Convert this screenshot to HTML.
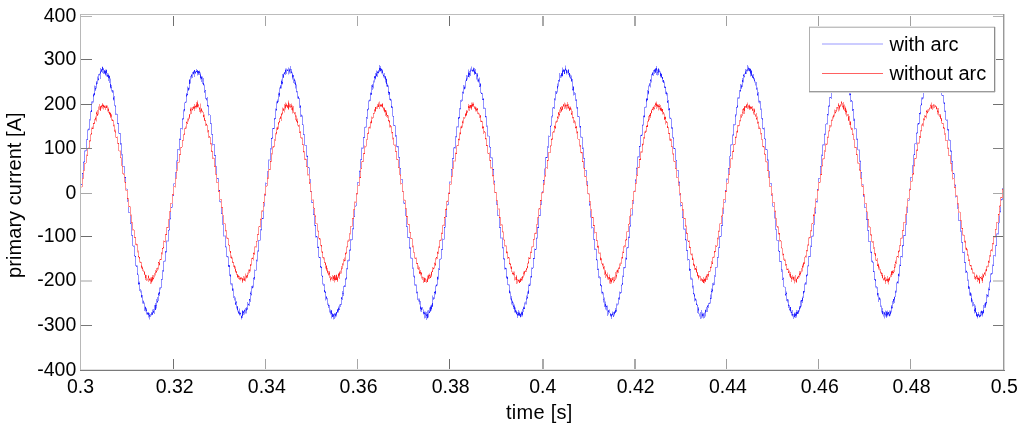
<!DOCTYPE html>
<html><head><meta charset="utf-8"><style>
html,body{margin:0;padding:0;background:#fff;width:1024px;height:431px;overflow:hidden;font-family:"Liberation Sans",sans-serif;}
svg{display:block;}
</style></head><body>
<svg width="1024" height="431" viewBox="0 0 1024 431"><rect width="1024" height="431" fill="#fff"/><defs><clipPath id="c"><rect x="80" y="14" width="924" height="357"/></clipPath><filter id="b" x="-5%" y="-5%" width="110%" height="110%"><feGaussianBlur stdDeviation="0.3"/></filter></defs><g clip-path="url(#c)"><g filter="url(#b)" opacity="0.85"><path fill="#0000ff" d="M80.5 184h0.5v3h-0.5zM80.5 196h0.5v0.5h-0.5zM81 184h0.5v1h-0.5zM81.5 184.5h0.5v0.5h-0.5zM82 173h0.5v5.5h-0.5zM82.5 173h0.5v1h-0.5zM83 161.5h0.5v9h-0.5zM83.5 162h0.5v0.5h-0.5zM84 161.5h0.5v0.5h-0.5zM84.5 150.5h0.5v12h-0.5zM85 150.5h0.5v1h-0.5zM85.5 150h0.5v0.5h-0.5zM86 139.5h0.5v11.5h-0.5zM86.5 139.5h0.5v0.5h-0.5zM87 139.5h0.5v0.5h-0.5zM87.5 129.5h0.5v10.5h-0.5zM88 128.5h0.5v1h-0.5zM88.5 129h0.5v1.5h-0.5zM89 119.5h0.5v10.5h-0.5zM89.5 119.5h0.5v0.5h-0.5zM90 120h0.5v0.5h-0.5zM90.5 111h0.5v9h-0.5zM91 110h0.5v2h-0.5zM91.5 101.5h0.5v10.5h-0.5zM92 102.5h0.5v1h-0.5zM92.5 101h0.5v1.5h-0.5zM93 94.5h0.5v8h-0.5zM93.5 93.5h0.5v3h-0.5zM94 93h0.5v2h-0.5zM94.5 85.5h0.5v10h-0.5zM95 86h0.5v5h-0.5zM95.5 88h0.5v1.5h-0.5zM96 82.5h0.5v6h-0.5zM96.5 81h0.5v3.5h-0.5zM97 83.5h0.5v0.5h-0.5zM97.5 76.5h0.5v7h-0.5zM98 78.5h0.5v2h-0.5zM98.5 74h0.5v6h-0.5zM99 73.5h0.5v2h-0.5zM99.5 74.5h0.5v0.5h-0.5zM100 71.5h0.5v7.5h-0.5zM100.5 68h0.5v5.5h-0.5zM101 69.5h0.5v2h-0.5zM101.5 69h0.5v3h-0.5zM102 67h0.5v3h-0.5zM102.5 66.5h0.5v6.5h-0.5zM103 69.5h0.5v4.5h-0.5zM103.5 68h0.5v2h-0.5zM104 70h0.5v3h-0.5zM104.5 70.5h0.5v3.5h-0.5zM105 69.5h0.5v5h-0.5zM105.5 71h0.5v4.5h-0.5zM106 70h0.5v6.5h-0.5zM106.5 69.5h0.5v3.5h-0.5zM107 73h0.5v3.5h-0.5zM107.5 75h0.5v2h-0.5zM108 75h0.5v3h-0.5zM108.5 73.5h0.5v7.5h-0.5zM109 75.5h0.5v7.5h-0.5zM109.5 76h0.5v2.5h-0.5zM110 78.5h0.5v10h-0.5zM110.5 84h0.5v3.5h-0.5zM111 87h0.5v0.5h-0.5zM111.5 85h0.5v6.5h-0.5zM112 90.5h0.5v2.5h-0.5zM112.5 90h0.5v1.5h-0.5zM113 90.5h0.5v10h-0.5zM113.5 97.5h0.5v2h-0.5zM114 96h0.5v9.5h-0.5zM114.5 105h0.5v0.5h-0.5zM115 105.5h0.5v1h-0.5zM115.5 105.5h0.5v9.5h-0.5zM116 113.5h0.5v1h-0.5zM116.5 114h0.5v0.5h-0.5zM117 114h0.5v10h-0.5zM117.5 123h0.5v0.5h-0.5zM118 123h0.5v1h-0.5zM118.5 123.5h0.5v10h-0.5zM119 133h0.5v0.5h-0.5zM119.5 133h0.5v1h-0.5zM120 133h0.5v11.5h-0.5zM120.5 143.5h0.5v1h-0.5zM121 143.5h0.5v0.5h-0.5zM121.5 143.5h0.5v12h-0.5zM122 154.5h0.5v0.5h-0.5zM122.5 154.5h0.5v11h-0.5zM123 166h0.5v0.5h-0.5zM123.5 166h0.5v0.5h-0.5zM124 166h0.5v7.5h-0.5zM124.5 177h0.5v1h-0.5zM125 177h0.5v1h-0.5zM125.5 177h0.5v5h-0.5zM126 188.5h0.5v0.5h-0.5zM126.5 189h0.5v0.5h-0.5zM127 189h0.5v1h-0.5zM127 199h0.5v2.5h-0.5zM127.5 201h0.5v0.5h-0.5zM128 200.5h0.5v0.5h-0.5zM128.5 207h0.5v6h-0.5zM129 212.5h0.5v0.5h-0.5zM129.5 212h0.5v0.5h-0.5zM130 215.5h0.5v8.5h-0.5zM130.5 223h0.5v0.5h-0.5zM131 223.5h0.5v12h-0.5zM131.5 235h0.5v0.5h-0.5zM132 235h0.5v0.5h-0.5zM132.5 235h0.5v11h-0.5zM133 246h0.5v0.5h-0.5zM133.5 245.5h0.5v1h-0.5zM134 245.5h0.5v11h-0.5zM134.5 255.5h0.5v0.5h-0.5zM135 256h0.5v1h-0.5zM135.5 256h0.5v10h-0.5zM136 265.5h0.5v1.5h-0.5zM136.5 265.5h0.5v1h-0.5zM137 265.5h0.5v9.5h-0.5zM137.5 273.5h0.5v1h-0.5zM138 274.5h0.5v9.5h-0.5zM138.5 282.5h0.5v2.5h-0.5zM139 283h0.5v1h-0.5zM139.5 281.5h0.5v9.5h-0.5zM140 289h0.5v2h-0.5zM140.5 291h0.5v1.5h-0.5zM141 290.5h0.5v7.5h-0.5zM141.5 295h0.5v2h-0.5zM142 295h0.5v0.5h-0.5zM142.5 295.5h0.5v8h-0.5zM143 300.5h0.5v3.5h-0.5zM143.5 301.5h0.5v1h-0.5zM144 302.5h0.5v6h-0.5zM144.5 308.5h0.5v2.5h-0.5zM145 307h0.5v2.5h-0.5zM145.5 306.5h0.5v5h-0.5zM146 309.5h0.5v1.5h-0.5zM146.5 308h0.5v6.5h-0.5zM147 313h0.5v1h-0.5zM147.5 312h0.5v3h-0.5zM148 312.5h0.5v5h-0.5zM148.5 312.5h0.5v2.5h-0.5zM149 313h0.5v3.5h-0.5zM149.5 315h0.5v4.5h-0.5zM150 315.5h0.5v1.5h-0.5zM150.5 314h0.5v1.5h-0.5zM151 313.5h0.5v2h-0.5zM151.5 312h0.5v2.5h-0.5zM152 309.5h0.5v5.5h-0.5zM152.5 312.5h0.5v2h-0.5zM153 311h0.5v1.5h-0.5zM153.5 309h0.5v4h-0.5zM154 309.5h0.5v4.5h-0.5zM154.5 305h0.5v4.5h-0.5zM155 305h0.5v5h-0.5zM155.5 303h0.5v7h-0.5zM156 305.5h0.5v3h-0.5zM156.5 299h0.5v7h-0.5zM157 297h0.5v5.5h-0.5zM157.5 301h0.5v1.5h-0.5zM158 292.5h0.5v8.5h-0.5zM158.5 293.5h0.5v1.5h-0.5zM159 292h0.5v4h-0.5zM159.5 287.5h0.5v6.5h-0.5zM160 289h0.5v0.5h-0.5zM160.5 287h0.5v2h-0.5zM161 279h0.5v9h-0.5zM161.5 279h0.5v0.5h-0.5zM162 270.5h0.5v9.5h-0.5zM162.5 270.5h0.5v0.5h-0.5zM163 270.5h0.5v1h-0.5zM163.5 261h0.5v10.5h-0.5zM164 260.5h0.5v1h-0.5zM164.5 261h0.5v0.5h-0.5zM165 251.5h0.5v10h-0.5zM165.5 251h0.5v1.5h-0.5zM166 251.5h0.5v1h-0.5zM166.5 240.5h0.5v11.5h-0.5zM167 240.5h0.5v0.5h-0.5zM167.5 241h0.5v0.5h-0.5zM168 230h0.5v11.5h-0.5zM168.5 230h0.5v0.5h-0.5zM169 229.5h0.5v0.5h-0.5zM169.5 219.5h0.5v11h-0.5zM170 218.5h0.5v0.5h-0.5zM170.5 212h0.5v7.5h-0.5zM171 207h0.5v1h-0.5zM171.5 207h0.5v0.5h-0.5zM172 203.5h0.5v4h-0.5zM172.5 195.5h0.5v0.5h-0.5zM173 195.5h0.5v0.5h-0.5zM173.5 183.5h0.5v3h-0.5zM173.5 195h0.5v1h-0.5zM174 183.5h0.5v0.5h-0.5zM174.5 183.5h0.5v0.5h-0.5zM175 172.5h0.5v6h-0.5zM175.5 172.5h0.5v0.5h-0.5zM176 172h0.5v1h-0.5zM176.5 160.5h0.5v9h-0.5zM177 160.5h0.5v0.5h-0.5zM177.5 149h0.5v12.5h-0.5zM178 149.5h0.5v0.5h-0.5zM178.5 149.5h0.5v0.5h-0.5zM179 138.5h0.5v12h-0.5zM179.5 139h0.5v0.5h-0.5zM180 139h0.5v1h-0.5zM180.5 128h0.5v11.5h-0.5zM181 128h0.5v0.5h-0.5zM181.5 128h0.5v0.5h-0.5zM182 118.5h0.5v11h-0.5zM182.5 118.5h0.5v1h-0.5zM183 118.5h0.5v1h-0.5zM183.5 109.5h0.5v9.5h-0.5zM184 109h0.5v1.5h-0.5zM184.5 102.5h0.5v9h-0.5zM185 101.5h0.5v1h-0.5zM185.5 102h0.5v1h-0.5zM186 93h0.5v9.5h-0.5zM186.5 94.5h0.5v2h-0.5zM187 94h0.5v1.5h-0.5zM187.5 86.5h0.5v8.5h-0.5zM188 87.5h0.5v2.5h-0.5zM188.5 88h0.5v3h-0.5zM189 80h0.5v9.5h-0.5zM189.5 79h0.5v5h-0.5zM190 77h0.5v6.5h-0.5zM190.5 76h0.5v1h-0.5zM191 75h0.5v1.5h-0.5zM191.5 74h0.5v4.5h-0.5zM192 73.5h0.5v4.5h-0.5zM192.5 72h0.5v1.5h-0.5zM193 72h0.5v2.5h-0.5zM193.5 71h0.5v3h-0.5zM194 70h0.5v7h-0.5zM194.5 70h0.5v2.5h-0.5zM195 71h0.5v2.5h-0.5zM195.5 72h0.5v1.5h-0.5zM196 69h0.5v3h-0.5zM196.5 71h0.5v1h-0.5zM197 70h0.5v3h-0.5zM197.5 70.5h0.5v5h-0.5zM198 71h0.5v4h-0.5zM198.5 71h0.5v2.5h-0.5zM199 71.5h0.5v3.5h-0.5zM199.5 70.5h0.5v2.5h-0.5zM200 72.5h0.5v5.5h-0.5zM200.5 74.5h0.5v5h-0.5zM201 76.5h0.5v2.5h-0.5zM201.5 76.5h0.5v5.5h-0.5zM202 78h0.5v6h-0.5zM202.5 76.5h0.5v1.5h-0.5zM203 78h0.5v7h-0.5zM203.5 83h0.5v2.5h-0.5zM204 84.5h0.5v7h-0.5zM204.5 91h0.5v2h-0.5zM205 90h0.5v1h-0.5zM205.5 90.5h0.5v8.5h-0.5zM206 98.5h0.5v2h-0.5zM206.5 98h0.5v1.5h-0.5zM207 97h0.5v9.5h-0.5zM207.5 105h0.5v1h-0.5zM208 105.5h0.5v1h-0.5zM208.5 105.5h0.5v10h-0.5zM209 114.5h0.5v0.5h-0.5zM209.5 114.5h0.5v0.5h-0.5zM210 115h0.5v9h-0.5zM210.5 123.5h0.5v0.5h-0.5zM211 123h0.5v11.5h-0.5zM211.5 134h0.5v0.5h-0.5zM212 134h0.5v0.5h-0.5zM212.5 134h0.5v11.5h-0.5zM213 144.5h0.5v0.5h-0.5zM213.5 144.5h0.5v0.5h-0.5zM214 144h0.5v12h-0.5zM214.5 155.5h0.5v0.5h-0.5zM215 155h0.5v1h-0.5zM215.5 155.5h0.5v10.5h-0.5zM216 166.5h0.5v0.5h-0.5zM216.5 166.5h0.5v7.5h-0.5zM217 178.5h0.5v0.5h-0.5zM217.5 178h0.5v1h-0.5zM218 178h0.5v4h-0.5zM218.5 190h0.5v0.5h-0.5zM219 190h0.5v1h-0.5zM219.5 190h0.5v1h-0.5zM219.5 199.5h0.5v2.5h-0.5zM220 201.5h0.5v0.5h-0.5zM220.5 201.5h0.5v1h-0.5zM221 208h0.5v6h-0.5zM221.5 213h0.5v0.5h-0.5zM222 213h0.5v0.5h-0.5zM222.5 215.5h0.5v9.5h-0.5zM223 224.5h0.5v0.5h-0.5zM223.5 224.5h0.5v12h-0.5zM224 235.5h0.5v0.5h-0.5zM224.5 236h0.5v0.5h-0.5zM225 235.5h0.5v12h-0.5zM225.5 246.5h0.5v0.5h-0.5zM226 246.5h0.5v0.5h-0.5zM226.5 247h0.5v10h-0.5zM227 256h0.5v1h-0.5zM227.5 256.5h0.5v1h-0.5zM228 256.5h0.5v10.5h-0.5zM228.5 265h0.5v1.5h-0.5zM229 265h0.5v2h-0.5zM229.5 265.5h0.5v10.5h-0.5zM230 275h0.5v1.5h-0.5zM230.5 274h0.5v10.5h-0.5zM231 283h0.5v1.5h-0.5zM231.5 284.5h0.5v1h-0.5zM232 283.5h0.5v7.5h-0.5zM232.5 288.5h0.5v2h-0.5zM233 288.5h0.5v1h-0.5zM233.5 289.5h0.5v8.5h-0.5zM234 296h0.5v2.5h-0.5zM234.5 298.5h0.5v2h-0.5zM235 297.5h0.5v7.5h-0.5zM235.5 302.5h0.5v2h-0.5zM236 301h0.5v1.5h-0.5zM236.5 302h0.5v6.5h-0.5zM237 306h0.5v4h-0.5zM237.5 306.5h0.5v5h-0.5zM238 311.5h0.5v2.5h-0.5zM238.5 310.5h0.5v2.5h-0.5zM239 308.5h0.5v6h-0.5zM239.5 312.5h0.5v3h-0.5zM240 312.5h0.5v1.5h-0.5zM240.5 313h0.5v2.5h-0.5zM241 315.5h0.5v4h-0.5zM241.5 316h0.5v2h-0.5zM242 310.5h0.5v7.5h-0.5zM242.5 310.5h0.5v5.5h-0.5zM243 311h0.5v2h-0.5zM243.5 311.5h0.5v3.5h-0.5zM244 309.5h0.5v2h-0.5zM244.5 310h0.5v4.5h-0.5zM245 311h0.5v2.5h-0.5zM245.5 308h0.5v3h-0.5zM246 308.5h0.5v5h-0.5zM246.5 307h0.5v3.5h-0.5zM247 308.5h0.5v1h-0.5zM247.5 302h0.5v7.5h-0.5zM248 303.5h0.5v1.5h-0.5zM248.5 304h0.5v1.5h-0.5zM249 299h0.5v7h-0.5zM249.5 299h0.5v1.5h-0.5zM250 293h0.5v9h-0.5zM250.5 291.5h0.5v2.5h-0.5zM251 294h0.5v1.5h-0.5zM251.5 286h0.5v8.5h-0.5zM252 285.5h0.5v3h-0.5zM252.5 286.5h0.5v1.5h-0.5zM253 278h0.5v9.5h-0.5zM253.5 277.5h0.5v1h-0.5zM254 277h0.5v1.5h-0.5zM254.5 269.5h0.5v10.5h-0.5zM255 270h0.5v0.5h-0.5zM255.5 270h0.5v0.5h-0.5zM256 259.5h0.5v11h-0.5zM256.5 260.5h0.5v0.5h-0.5zM257 251h0.5v10.5h-0.5zM257.5 250.5h0.5v0.5h-0.5zM258 250.5h0.5v1h-0.5zM258.5 240h0.5v11.5h-0.5zM259 240h0.5v0.5h-0.5zM259.5 240h0.5v0.5h-0.5zM260 229.5h0.5v11h-0.5zM260.5 229.5h0.5v0.5h-0.5zM261 229.5h0.5v0.5h-0.5zM261.5 219.5h0.5v11h-0.5zM262 218h0.5v1h-0.5zM262.5 218h0.5v1h-0.5zM263 211h0.5v8h-0.5zM263.5 206h0.5v0.5h-0.5zM264 202.5h0.5v4h-0.5zM264.5 195h0.5v0.5h-0.5zM265 194.5h0.5v1h-0.5zM265.5 182.5h0.5v3.5h-0.5zM265.5 195h0.5v0.5h-0.5zM266 183h0.5v0.5h-0.5zM266.5 183h0.5v0.5h-0.5zM267 171.5h0.5v6h-0.5zM267.5 171.5h0.5v0.5h-0.5zM268 171.5h0.5v0.5h-0.5zM268.5 159.5h0.5v9.5h-0.5zM269 160h0.5v0.5h-0.5zM269.5 159.5h0.5v0.5h-0.5zM270 148.5h0.5v12h-0.5zM270.5 148.5h0.5v0.5h-0.5zM271 138h0.5v11.5h-0.5zM271.5 138h0.5v1h-0.5zM272 137.5h0.5v1h-0.5zM272.5 128h0.5v10.5h-0.5zM273 128h0.5v1h-0.5zM273.5 128h0.5v1h-0.5zM274 118h0.5v11h-0.5zM274.5 118.5h0.5v1h-0.5zM275 118.5h0.5v0.5h-0.5zM275.5 108.5h0.5v10.5h-0.5zM276 109h0.5v1h-0.5zM276.5 101.5h0.5v9.5h-0.5zM277 101h0.5v2h-0.5zM277.5 99.5h0.5v4h-0.5zM278 94.5h0.5v7.5h-0.5zM278.5 92.5h0.5v2.5h-0.5zM279 93h0.5v4h-0.5zM279.5 87.5h0.5v8h-0.5zM280 85h0.5v4h-0.5zM280.5 86.5h0.5v1.5h-0.5zM281 81h0.5v7.5h-0.5zM281.5 79.5h0.5v4.5h-0.5zM282 82h0.5v2.5h-0.5zM282.5 74h0.5v9.5h-0.5zM283 74.5h0.5v3.5h-0.5zM283.5 73.5h0.5v4h-0.5zM284 72.5h0.5v1.5h-0.5zM284.5 72h0.5v2.5h-0.5zM285 70h0.5v5h-0.5zM285.5 68.5h0.5v4h-0.5zM286 72.5h0.5v1.5h-0.5zM286.5 68.5h0.5v4h-0.5zM287 69.5h0.5v1.5h-0.5zM287.5 69.5h0.5v1.5h-0.5zM288 67.5h0.5v3.5h-0.5zM288.5 71h0.5v3.5h-0.5zM289 68.5h0.5v3h-0.5zM289.5 69.5h0.5v4h-0.5zM290 66h0.5v4h-0.5zM290.5 69.5h0.5v4h-0.5zM291 69h0.5v4.5h-0.5zM291.5 71.5h0.5v1.5h-0.5zM292 72.5h0.5v7h-0.5zM292.5 74.5h0.5v3h-0.5zM293 75h0.5v1.5h-0.5zM293.5 75.5h0.5v7.5h-0.5zM294 78.5h0.5v5.5h-0.5zM294.5 79.5h0.5v1.5h-0.5zM295 80.5h0.5v8h-0.5zM295.5 82.5h0.5v2.5h-0.5zM296 84.5h0.5v7.5h-0.5zM296.5 91.5h0.5v1h-0.5zM297 91.5h0.5v0.5h-0.5zM297.5 91.5h0.5v7h-0.5zM298 96h0.5v3h-0.5zM298.5 97h0.5v1.5h-0.5zM299 98h0.5v9.5h-0.5zM299.5 107.5h0.5v0.5h-0.5zM300 105.5h0.5v2h-0.5zM300.5 105.5h0.5v11.5h-0.5zM301 115.5h0.5v1h-0.5zM301.5 114.5h0.5v2h-0.5zM302 115.5h0.5v9.5h-0.5zM302.5 124.5h0.5v0.5h-0.5zM303 124.5h0.5v10h-0.5zM303.5 134h0.5v1h-0.5zM304 134.5h0.5v0.5h-0.5zM304.5 134.5h0.5v11h-0.5zM305 145.5h0.5v0.5h-0.5zM305.5 145h0.5v0.5h-0.5zM306 145h0.5v11.5h-0.5zM306.5 156h0.5v0.5h-0.5zM307 155.5h0.5v1.5h-0.5zM307.5 156h0.5v10.5h-0.5zM308 167.5h0.5v0.5h-0.5zM308.5 167h0.5v1h-0.5zM309 167.5h0.5v7h-0.5zM309.5 179h0.5v0.5h-0.5zM310 179h0.5v4h-0.5zM310.5 191h0.5v0.5h-0.5zM311 191h0.5v0.5h-0.5zM311.5 191h0.5v0.5h-0.5zM311.5 200h0.5v3h-0.5zM312 202.5h0.5v0.5h-0.5zM312.5 202h0.5v1h-0.5zM313 208.5h0.5v6.5h-0.5zM313.5 214h0.5v0.5h-0.5zM314 214h0.5v1h-0.5zM314.5 216h0.5v10h-0.5zM315 225h0.5v1h-0.5zM315.5 225h0.5v12.5h-0.5zM316 236h0.5v1h-0.5zM316.5 236h0.5v1.5h-0.5zM317 236.5h0.5v11.5h-0.5zM317.5 247h0.5v0.5h-0.5zM318 246.5h0.5v1.5h-0.5zM318.5 247h0.5v10.5h-0.5zM319 257h0.5v1h-0.5zM319.5 257h0.5v1h-0.5zM320 257h0.5v11h-0.5zM320.5 266h0.5v1h-0.5zM321 266.5h0.5v1.5h-0.5zM321.5 267h0.5v9h-0.5zM322 276h0.5v1h-0.5zM322.5 275.5h0.5v9h-0.5zM323 283.5h0.5v0.5h-0.5zM323.5 284h0.5v2h-0.5zM324 284h0.5v8h-0.5zM324.5 290h0.5v2.5h-0.5zM325 291h0.5v2h-0.5zM325.5 292h0.5v8.5h-0.5zM326 297h0.5v2.5h-0.5zM326.5 296h0.5v2.5h-0.5zM327 298h0.5v5.5h-0.5zM327.5 303.5h0.5v1.5h-0.5zM328 303.5h0.5v4.5h-0.5zM328.5 305h0.5v1h-0.5zM329 305h0.5v2h-0.5zM329.5 307h0.5v5.5h-0.5zM330 311.5h0.5v3h-0.5zM330.5 309.5h0.5v3h-0.5zM331 310.5h0.5v3.5h-0.5zM331.5 310h0.5v8.5h-0.5zM332 313.5h0.5v3.5h-0.5zM332.5 313.5h0.5v3.5h-0.5zM333 314.5h0.5v5h-0.5zM333.5 314h0.5v2.5h-0.5zM334 314.5h0.5v4.5h-0.5zM334.5 313h0.5v2h-0.5zM335 314h0.5v2h-0.5zM335.5 313h0.5v4.5h-0.5zM336 312h0.5v2.5h-0.5zM336.5 312h0.5v4.5h-0.5zM337 309.5h0.5v2.5h-0.5zM337.5 309h0.5v4h-0.5zM338 306.5h0.5v6h-0.5zM338.5 308h0.5v2.5h-0.5zM339 309h0.5v1h-0.5zM339.5 304.5h0.5v5h-0.5zM340 304h0.5v3h-0.5zM340.5 304h0.5v0.5h-0.5zM341 297.5h0.5v7.5h-0.5zM341.5 297h0.5v2h-0.5zM342 293.5h0.5v6.5h-0.5zM342.5 291h0.5v3h-0.5zM343 293.5h0.5v2.5h-0.5zM343.5 286h0.5v8h-0.5zM344 285h0.5v1.5h-0.5zM344.5 286h0.5v1h-0.5zM345 278.5h0.5v8.5h-0.5zM345.5 278.5h0.5v1h-0.5zM346 277.5h0.5v1h-0.5zM346.5 268h0.5v11.5h-0.5zM347 268.5h0.5v0.5h-0.5zM347.5 260h0.5v9.5h-0.5zM348 260h0.5v1.5h-0.5zM348.5 259.5h0.5v0.5h-0.5zM349 250h0.5v11h-0.5zM349.5 249.5h0.5v1h-0.5zM350 249.5h0.5v0.5h-0.5zM350.5 239h0.5v12h-0.5zM351 239.5h0.5v1h-0.5zM351.5 239.5h0.5v0.5h-0.5zM352 228.5h0.5v11.5h-0.5zM352.5 228.5h0.5v0.5h-0.5zM353 228.5h0.5v0.5h-0.5zM353.5 218.5h0.5v11h-0.5zM354 216.5h0.5v0.5h-0.5zM354.5 210h0.5v7h-0.5zM355 205.5h0.5v1h-0.5zM355.5 206h0.5v0.5h-0.5zM356 202.5h0.5v3.5h-0.5zM356.5 194h0.5v0.5h-0.5zM357.5 182h0.5v3.5h-0.5zM358 182h0.5v0.5h-0.5zM358.5 182h0.5v0.5h-0.5zM359 171h0.5v6h-0.5zM359.5 170.5h0.5v1h-0.5zM360 171h0.5v1h-0.5zM360.5 159h0.5v9.5h-0.5zM361 159.5h0.5v0.5h-0.5zM361.5 147.5h0.5v12.5h-0.5zM362 148h0.5v0.5h-0.5zM362.5 147.5h0.5v1h-0.5zM363 137h0.5v11.5h-0.5zM363.5 137h0.5v0.5h-0.5zM364 137.5h0.5v0.5h-0.5zM364.5 127h0.5v11h-0.5zM365 126.5h0.5v0.5h-0.5zM365.5 127h0.5v1h-0.5zM366 117h0.5v10.5h-0.5zM366.5 117h0.5v0.5h-0.5zM367 109h0.5v10h-0.5zM367.5 109.5h0.5v1h-0.5zM368 108.5h0.5v1.5h-0.5zM368.5 100.5h0.5v8.5h-0.5zM369 100h0.5v0.5h-0.5zM369.5 99.5h0.5v2h-0.5zM370 92.5h0.5v8.5h-0.5zM370.5 93.5h0.5v1h-0.5zM371 93h0.5v2h-0.5zM371.5 85h0.5v9.5h-0.5zM372 85.5h0.5v1.5h-0.5zM372.5 84h0.5v6h-0.5zM373 81.5h0.5v7h-0.5zM373.5 80.5h0.5v1h-0.5zM374 76h0.5v6.5h-0.5zM374.5 76.5h0.5v1.5h-0.5zM375 76h0.5v3.5h-0.5zM375.5 73h0.5v5.5h-0.5zM376 73.5h0.5v2.5h-0.5zM376.5 70.5h0.5v6h-0.5zM377 71.5h0.5v5.5h-0.5zM377.5 71.5h0.5v1.5h-0.5zM378 71.5h0.5v2h-0.5zM378.5 70h0.5v3h-0.5zM379 68h0.5v4h-0.5zM379.5 65h0.5v5.5h-0.5zM380 68h0.5v3h-0.5zM380.5 66h0.5v5.5h-0.5zM381 69h0.5v4.5h-0.5zM381.5 68.5h0.5v2h-0.5zM382 70.5h0.5v2.5h-0.5zM382.5 69.5h0.5v5h-0.5zM383 73.5h0.5v2.5h-0.5zM383.5 75h0.5v2.5h-0.5zM384 73h0.5v3.5h-0.5zM384.5 76h0.5v2.5h-0.5zM385 76.5h0.5v3h-0.5zM385.5 76h0.5v6.5h-0.5zM386 78.5h0.5v5.5h-0.5zM386.5 79h0.5v7.5h-0.5zM387 83.5h0.5v3.5h-0.5zM387.5 85h0.5v1.5h-0.5zM388 85.5h0.5v7.5h-0.5zM388.5 91.5h0.5v3.5h-0.5zM389 92h0.5v2.5h-0.5zM389.5 92h0.5v8h-0.5zM390 99h0.5v2h-0.5zM390.5 98.5h0.5v1.5h-0.5zM391 99.5h0.5v8h-0.5zM391.5 106h0.5v2h-0.5zM392 107.5h0.5v0.5h-0.5zM392.5 106.5h0.5v10h-0.5zM393 116h0.5v0.5h-0.5zM393.5 116h0.5v10h-0.5zM394 125h0.5v1h-0.5zM394.5 125.5h0.5v0.5h-0.5zM395 125.5h0.5v11h-0.5zM395.5 135.5h0.5v1h-0.5zM396 135.5h0.5v0.5h-0.5zM396.5 135.5h0.5v11.5h-0.5zM397 146.5h0.5v1h-0.5zM397.5 146h0.5v1h-0.5zM398 146h0.5v11.5h-0.5zM398.5 157.5h0.5v0.5h-0.5zM399 157h0.5v0.5h-0.5zM399.5 157h0.5v10.5h-0.5zM400 168h0.5v0.5h-0.5zM400.5 168h0.5v6.5h-0.5zM401 179.5h0.5v0.5h-0.5zM401.5 179.5h0.5v0.5h-0.5zM402 179h0.5v4.5h-0.5zM403.5 191h0.5v0.5h-0.5zM403.5 200.5h0.5v3h-0.5zM404 202.5h0.5v1.5h-0.5zM404.5 203h0.5v0.5h-0.5zM405 209h0.5v6.5h-0.5zM405.5 215h0.5v0.5h-0.5zM406 217.5h0.5v9.5h-0.5zM406.5 226.5h0.5v0.5h-0.5zM407 226.5h0.5v0.5h-0.5zM407.5 226.5h0.5v11.5h-0.5zM408 237h0.5v1h-0.5zM408.5 237h0.5v0.5h-0.5zM409 237h0.5v11.5h-0.5zM409.5 247.5h0.5v1h-0.5zM410 248h0.5v0.5h-0.5zM410.5 247h0.5v11.5h-0.5zM411 257.5h0.5v0.5h-0.5zM411.5 258h0.5v1h-0.5zM412 258h0.5v10.5h-0.5zM412.5 268h0.5v0.5h-0.5zM413 267.5h0.5v9h-0.5zM413.5 276h0.5v0.5h-0.5zM414 276.5h0.5v1h-0.5zM414.5 275.5h0.5v10h-0.5zM415 284.5h0.5v1h-0.5zM415.5 284.5h0.5v1h-0.5zM416 284.5h0.5v8.5h-0.5zM416.5 292.5h0.5v1h-0.5zM417 291.5h0.5v1h-0.5zM417.5 292h0.5v8h-0.5zM418 300h0.5v1.5h-0.5zM418.5 298.5h0.5v1.5h-0.5zM419 298.5h0.5v6h-0.5zM419.5 300.5h0.5v1h-0.5zM420 301h0.5v10.5h-0.5zM420.5 306.5h0.5v2.5h-0.5zM421 307h0.5v3h-0.5zM421.5 308h0.5v4h-0.5zM422 307h0.5v1h-0.5zM422.5 308h0.5v1.5h-0.5zM423 309.5h0.5v5h-0.5zM423.5 312h0.5v1.5h-0.5zM424 311.5h0.5v2.5h-0.5zM424.5 312.5h0.5v6h-0.5zM425 311.5h0.5v3h-0.5zM425.5 313.5h0.5v4.5h-0.5zM426 312h0.5v4h-0.5zM426.5 314.5h0.5v5.5h-0.5zM427 310.5h0.5v8h-0.5zM427.5 314h0.5v4h-0.5zM428 315h0.5v2.5h-0.5zM428.5 310h0.5v5h-0.5zM429 311.5h0.5v1.5h-0.5zM429.5 307.5h0.5v5.5h-0.5zM430 307h0.5v4.5h-0.5zM430.5 305.5h0.5v6h-0.5zM431 305.5h0.5v5h-0.5zM431.5 304.5h0.5v4.5h-0.5zM432 303h0.5v4h-0.5zM432.5 295.5h0.5v11h-0.5zM433 297h0.5v2h-0.5zM433.5 298.5h0.5v1.5h-0.5zM434 291.5h0.5v7.5h-0.5zM434.5 292h0.5v1h-0.5zM435 291h0.5v3.5h-0.5zM435.5 285.5h0.5v8h-0.5zM436 284h0.5v2.5h-0.5zM436.5 285h0.5v1h-0.5zM437 276.5h0.5v9h-0.5zM437.5 277h0.5v2.5h-0.5zM438 268.5h0.5v11h-0.5zM438.5 268.5h0.5v0.5h-0.5zM439 269h0.5v1h-0.5zM439.5 259h0.5v10.5h-0.5zM440 258.5h0.5v0.5h-0.5zM440.5 259h0.5v1h-0.5zM441 249h0.5v10h-0.5zM441.5 249.5h0.5v0.5h-0.5zM442 249h0.5v1h-0.5zM442.5 238.5h0.5v11h-0.5zM443 239h0.5v0.5h-0.5zM443.5 239h0.5v0.5h-0.5zM444 227h0.5v12.5h-0.5zM444.5 227h0.5v1h-0.5zM445 218.5h0.5v9h-0.5zM445.5 216.5h0.5v0.5h-0.5zM446 216.5h0.5v0.5h-0.5zM446.5 210h0.5v7h-0.5zM447 204.5h0.5v0.5h-0.5zM447.5 204.5h0.5v1h-0.5zM448 192.5h0.5v0.5h-0.5zM448 201.5h0.5v3.5h-0.5zM449 192.5h0.5v0.5h-0.5zM449.5 181.5h0.5v2.5h-0.5zM450 181.5h0.5v0.5h-0.5zM450.5 182h0.5v0.5h-0.5zM451 169h0.5v7h-0.5zM451.5 169.5h0.5v0.5h-0.5zM452 158.5h0.5v9.5h-0.5zM452.5 158h0.5v1h-0.5zM453 158.5h0.5v0.5h-0.5zM453.5 147.5h0.5v11.5h-0.5zM454 147.5h0.5v1h-0.5zM454.5 147h0.5v1h-0.5zM455 136.5h0.5v12h-0.5zM455.5 136.5h0.5v0.5h-0.5zM456 136.5h0.5v1h-0.5zM456.5 126.5h0.5v10.5h-0.5zM457 127h0.5v0.5h-0.5zM457.5 126h0.5v1h-0.5zM458 117h0.5v10.5h-0.5zM458.5 117.5h0.5v1.5h-0.5zM459 117h0.5v1.5h-0.5zM459.5 108h0.5v10h-0.5zM460 108h0.5v0.5h-0.5zM460.5 100h0.5v9.5h-0.5zM461 101h0.5v1h-0.5zM461.5 99.5h0.5v1.5h-0.5zM462 92.5h0.5v8.5h-0.5zM462.5 91.5h0.5v1.5h-0.5zM463 92.5h0.5v1.5h-0.5zM463.5 85h0.5v8h-0.5zM464 85.5h0.5v4h-0.5zM464.5 87h0.5v2h-0.5zM465 81h0.5v7.5h-0.5zM465.5 80.5h0.5v0.5h-0.5zM466 78.5h0.5v2.5h-0.5zM466.5 75h0.5v6h-0.5zM467 77.5h0.5v2h-0.5zM467.5 75.5h0.5v2h-0.5zM468 69.5h0.5v7.5h-0.5zM468.5 72.5h0.5v4.5h-0.5zM469 71h0.5v6.5h-0.5zM469.5 73h0.5v2h-0.5zM470 70.5h0.5v5.5h-0.5zM470.5 68.5h0.5v3h-0.5zM471 66.5h0.5v4h-0.5zM471.5 70.5h0.5v0.5h-0.5zM472 69.5h0.5v2h-0.5zM472.5 70h0.5v1.5h-0.5zM473 68.5h0.5v3h-0.5zM473.5 67.5h0.5v4h-0.5zM474 68h0.5v7h-0.5zM474.5 70.5h0.5v3h-0.5zM475 69h0.5v5h-0.5zM475.5 72h0.5v2h-0.5zM476 73h0.5v0.5h-0.5zM476.5 73.5h0.5v6h-0.5zM477 73h0.5v3.5h-0.5zM477.5 74.5h0.5v7h-0.5zM478 78.5h0.5v4h-0.5zM478.5 79.5h0.5v2h-0.5zM479 77.5h0.5v9.5h-0.5zM479.5 86h0.5v0.5h-0.5zM480 83.5h0.5v3h-0.5zM480.5 83.5h0.5v9.5h-0.5zM481 92.5h0.5v1.5h-0.5zM481.5 93h0.5v1h-0.5zM482 93h0.5v7h-0.5zM482.5 99.5h0.5v0.5h-0.5zM483 98h0.5v2h-0.5zM483.5 99h0.5v10h-0.5zM484 107.5h0.5v1h-0.5zM484.5 108h0.5v0.5h-0.5zM485 108h0.5v9h-0.5zM485.5 116h0.5v1.5h-0.5zM486 116h0.5v10.5h-0.5zM486.5 126h0.5v0.5h-0.5zM487 125.5h0.5v0.5h-0.5zM487.5 126h0.5v10.5h-0.5zM488 136h0.5v0.5h-0.5zM488.5 135.5h0.5v0.5h-0.5zM489 136h0.5v11.5h-0.5zM489.5 146.5h0.5v0.5h-0.5zM490 147h0.5v1h-0.5zM490.5 147.5h0.5v10.5h-0.5zM491 157.5h0.5v0.5h-0.5zM491.5 157.5h0.5v1h-0.5zM492 157.5h0.5v10h-0.5zM492.5 169h0.5v1h-0.5zM493 169h0.5v1h-0.5zM493.5 169h0.5v6.5h-0.5zM494 180.5h0.5v1h-0.5zM494.5 181h0.5v2.5h-0.5zM495.5 192.5h0.5v0.5h-0.5zM496 201h0.5v3.5h-0.5zM496.5 204h0.5v0.5h-0.5zM497 204h0.5v1h-0.5zM497.5 209.5h0.5v6.5h-0.5zM498 215.5h0.5v0.5h-0.5zM498.5 215.5h0.5v0.5h-0.5zM499 218h0.5v9.5h-0.5zM499.5 227h0.5v1h-0.5zM500 227h0.5v0.5h-0.5zM500.5 227h0.5v11.5h-0.5zM501 237.5h0.5v0.5h-0.5zM501.5 238h0.5v0.5h-0.5zM502 237.5h0.5v11h-0.5zM502.5 247.5h0.5v0.5h-0.5zM503 247h0.5v12.5h-0.5zM503.5 258.5h0.5v0.5h-0.5zM504 258.5h0.5v1h-0.5zM504.5 258.5h0.5v11h-0.5zM505 268h0.5v1h-0.5zM505.5 267.5h0.5v2h-0.5zM506 268h0.5v10.5h-0.5zM506.5 276.5h0.5v1h-0.5zM507 276.5h0.5v2.5h-0.5zM507.5 277h0.5v8h-0.5zM508 285h0.5v0.5h-0.5zM508.5 284h0.5v1h-0.5zM509 284.5h0.5v9h-0.5zM509.5 290.5h0.5v2.5h-0.5zM510 291.5h0.5v1.5h-0.5zM510.5 293h0.5v6.5h-0.5zM511 298.5h0.5v2h-0.5zM511.5 296h0.5v8.5h-0.5zM512 301.5h0.5v4h-0.5zM512.5 300.5h0.5v2.5h-0.5zM513 302.5h0.5v6.5h-0.5zM513.5 305.5h0.5v1.5h-0.5zM514 306.5h0.5v3h-0.5zM514.5 304.5h0.5v8h-0.5zM515 310h0.5v2h-0.5zM515.5 307.5h0.5v5.5h-0.5zM516 310.5h0.5v3.5h-0.5zM516.5 311.5h0.5v3h-0.5zM517 312h0.5v3.5h-0.5zM517.5 314h0.5v4h-0.5zM518 310h0.5v5.5h-0.5zM518.5 312.5h0.5v3h-0.5zM519 313h0.5v3h-0.5zM519.5 311.5h0.5v4h-0.5zM520 314h0.5v3.5h-0.5zM520.5 313.5h0.5v3.5h-0.5zM521 312.5h0.5v4h-0.5zM521.5 311.5h0.5v3h-0.5zM522 309h0.5v6h-0.5zM522.5 312h0.5v4.5h-0.5zM523 307.5h0.5v4.5h-0.5zM523.5 306.5h0.5v2.5h-0.5zM524 307.5h0.5v1.5h-0.5zM524.5 302.5h0.5v6.5h-0.5zM525 301.5h0.5v1.5h-0.5zM525.5 303h0.5v1.5h-0.5zM526 295.5h0.5v9h-0.5zM526.5 298.5h0.5v1h-0.5zM527 297h0.5v1.5h-0.5zM527.5 291.5h0.5v7h-0.5zM528 290.5h0.5v3.5h-0.5zM528.5 284.5h0.5v9h-0.5zM529 285h0.5v1h-0.5zM529.5 283.5h0.5v2.5h-0.5zM530 276.5h0.5v9h-0.5zM530.5 276.5h0.5v0.5h-0.5zM531 276h0.5v1.5h-0.5zM531.5 267.5h0.5v10h-0.5zM532 268h0.5v1h-0.5zM532.5 267.5h0.5v1h-0.5zM533 258h0.5v10h-0.5zM533.5 258h0.5v1h-0.5zM534 258.5h0.5v0.5h-0.5zM534.5 248.5h0.5v10.5h-0.5zM535 249h0.5v1h-0.5zM535.5 249h0.5v1h-0.5zM536 237.5h0.5v12h-0.5zM536.5 238.5h0.5v0.5h-0.5zM537 227h0.5v11.5h-0.5zM537.5 227h0.5v0.5h-0.5zM538 227h0.5v1h-0.5zM538.5 218h0.5v10h-0.5zM539 215.5h0.5v0.5h-0.5zM539.5 215h0.5v1h-0.5zM540 209h0.5v7h-0.5zM540.5 204h0.5v1h-0.5zM541 204h0.5v0.5h-0.5zM541.5 192h0.5v0.5h-0.5zM541.5 201h0.5v3.5h-0.5zM542 191.5h0.5v1h-0.5zM542.5 191.5h0.5v0.5h-0.5zM543 180h0.5v3.5h-0.5zM543.5 180h0.5v1h-0.5zM544 180h0.5v0.5h-0.5zM544.5 168.5h0.5v7h-0.5zM545 168.5h0.5v0.5h-0.5zM545.5 157h0.5v11h-0.5zM546 157h0.5v1h-0.5zM546.5 157h0.5v1h-0.5zM547 146.5h0.5v11.5h-0.5zM547.5 146.5h0.5v0.5h-0.5zM548 147h0.5v0.5h-0.5zM548.5 135.5h0.5v12h-0.5zM549 136h0.5v0.5h-0.5zM549.5 136h0.5v0.5h-0.5zM550 125.5h0.5v11h-0.5zM550.5 126h0.5v1h-0.5zM551 116.5h0.5v9.5h-0.5zM551.5 116h0.5v0.5h-0.5zM552 115.5h0.5v0.5h-0.5zM552.5 107.5h0.5v10h-0.5zM553 107.5h0.5v1h-0.5zM553.5 107h0.5v1h-0.5zM554 99.5h0.5v9.5h-0.5zM554.5 98h0.5v2h-0.5zM555 100h0.5v0.5h-0.5zM555.5 91h0.5v9h-0.5zM556 91h0.5v3h-0.5zM556.5 92.5h0.5v1h-0.5zM557 83.5h0.5v9h-0.5zM557.5 86h0.5v2.5h-0.5zM558 80.5h0.5v6h-0.5zM558.5 80h0.5v1h-0.5zM559 79.5h0.5v1h-0.5zM559.5 73h0.5v9h-0.5zM560 75.5h0.5v2.5h-0.5zM560.5 75.5h0.5v0.5h-0.5zM561 73.5h0.5v4h-0.5zM561.5 73h0.5v3h-0.5zM562 70.5h0.5v5.5h-0.5zM562.5 67.5h0.5v9h-0.5zM563 69.5h0.5v2.5h-0.5zM563.5 69.5h0.5v2h-0.5zM564 69.5h0.5v4.5h-0.5zM564.5 70h0.5v4h-0.5zM565 65.5h0.5v5.5h-0.5zM565.5 68.5h0.5v1.5h-0.5zM566 70h0.5v3h-0.5zM566.5 69.5h0.5v5h-0.5zM567 73h0.5v0.5h-0.5zM567.5 70.5h0.5v2.5h-0.5zM568 69h0.5v6h-0.5zM568.5 70h0.5v3h-0.5zM569 73h0.5v3.5h-0.5zM569.5 73h0.5v4.5h-0.5zM570 77.5h0.5v1.5h-0.5zM570.5 74.5h0.5v3.5h-0.5zM571 75.5h0.5v6.5h-0.5zM571.5 78.5h0.5v2.5h-0.5zM572 79h0.5v11.5h-0.5zM572.5 89.5h0.5v0.5h-0.5zM573 86h0.5v4.5h-0.5zM573.5 87h0.5v8.5h-0.5zM574 94h0.5v1h-0.5zM574.5 92h0.5v2h-0.5zM575 93h0.5v7.5h-0.5zM575.5 100h0.5v0.5h-0.5zM576 99h0.5v1.5h-0.5zM576.5 100h0.5v8.5h-0.5zM577 107.5h0.5v1h-0.5zM577.5 107h0.5v10h-0.5zM578 116.5h0.5v0.5h-0.5zM578.5 116h0.5v1h-0.5zM579 116.5h0.5v10h-0.5zM579.5 126.5h0.5v1h-0.5zM580 126h0.5v1.5h-0.5zM580.5 126h0.5v11.5h-0.5zM581 136.5h0.5v0.5h-0.5zM581.5 137h0.5v1h-0.5zM582 137h0.5v12h-0.5zM582.5 148h0.5v0.5h-0.5zM583 147.5h0.5v0.5h-0.5zM583.5 148h0.5v11h-0.5zM584 158h0.5v1h-0.5zM584.5 158.5h0.5v9.5h-0.5zM585 170h0.5v0.5h-0.5zM585.5 170h0.5v0.5h-0.5zM586 170h0.5v6.5h-0.5zM586.5 181.5h0.5v0.5h-0.5zM587 181.5h0.5v0.5h-0.5zM587.5 181.5h0.5v3.5h-0.5zM588.5 193h0.5v0.5h-0.5zM589 201.5h0.5v4h-0.5zM589.5 204.5h0.5v1h-0.5zM590 204.5h0.5v0.5h-0.5zM590.5 210.5h0.5v7h-0.5zM591 217h0.5v0.5h-0.5zM591.5 218h0.5v10.5h-0.5zM592 227.5h0.5v0.5h-0.5zM592.5 227.5h0.5v0.5h-0.5zM593 227.5h0.5v12h-0.5zM593.5 239h0.5v0.5h-0.5zM594 239h0.5v0.5h-0.5zM594.5 239h0.5v11h-0.5zM595 249h0.5v1h-0.5zM595.5 248.5h0.5v0.5h-0.5zM596 249h0.5v11h-0.5zM596.5 259h0.5v1.5h-0.5zM597 259.5h0.5v10h-0.5zM597.5 269h0.5v1h-0.5zM598 269h0.5v0.5h-0.5zM598.5 268.5h0.5v9.5h-0.5zM599 276.5h0.5v2h-0.5zM599.5 276.5h0.5v0.5h-0.5zM600 277h0.5v9h-0.5zM600.5 284h0.5v1.5h-0.5zM601 285h0.5v1.5h-0.5zM601.5 285.5h0.5v8h-0.5zM602 291.5h0.5v3h-0.5zM602.5 292h0.5v1h-0.5zM603 292.5h0.5v7.5h-0.5zM603.5 299.5h0.5v3h-0.5zM604 297.5h0.5v8h-0.5zM604.5 305.5h0.5v1.5h-0.5zM605 304h0.5v2.5h-0.5zM605.5 301.5h0.5v8h-0.5zM606 305.5h0.5v5h-0.5zM606.5 306h0.5v1h-0.5zM607 305.5h0.5v6.5h-0.5zM607.5 312h0.5v4h-0.5zM608 310h0.5v2h-0.5zM608.5 310.5h0.5v4h-0.5zM609 309.5h0.5v1.5h-0.5zM609.5 311h0.5v2h-0.5zM610 313h0.5v3.5h-0.5zM610.5 314h0.5v1.5h-0.5zM611 314.5h0.5v4.5h-0.5zM611.5 314h0.5v2.5h-0.5zM612 313.5h0.5v1.5h-0.5zM612.5 311.5h0.5v4h-0.5zM613 312h0.5v4.5h-0.5zM613.5 315.5h0.5v1.5h-0.5zM614 311h0.5v4.5h-0.5zM614.5 312h0.5v2h-0.5zM615 310h0.5v3h-0.5zM615.5 308h0.5v4.5h-0.5zM616 310.5h0.5v1.5h-0.5zM616.5 303.5h0.5v7.5h-0.5zM617 304.5h0.5v1h-0.5zM617.5 303.5h0.5v1h-0.5zM618 298h0.5v6.5h-0.5zM618.5 297.5h0.5v1h-0.5zM619 297.5h0.5v2.5h-0.5zM619.5 291.5h0.5v7h-0.5zM620 292h0.5v0.5h-0.5zM620.5 292h0.5v2h-0.5zM621 285h0.5v8h-0.5zM621.5 284.5h0.5v1h-0.5zM622 283h0.5v1.5h-0.5zM622.5 275.5h0.5v9.5h-0.5zM623 276h0.5v0.5h-0.5zM623.5 267h0.5v10h-0.5zM624 267.5h0.5v1h-0.5zM624.5 267h0.5v1h-0.5zM625 258h0.5v10h-0.5zM625.5 257.5h0.5v0.5h-0.5zM626 258h0.5v1.5h-0.5zM626.5 247.5h0.5v12h-0.5zM627 247h0.5v1h-0.5zM627.5 247.5h0.5v1h-0.5zM628 237.5h0.5v10.5h-0.5zM628.5 236.5h0.5v1.5h-0.5zM629 237h0.5v0.5h-0.5zM629.5 226h0.5v12h-0.5zM630 225.5h0.5v1h-0.5zM630.5 216.5h0.5v10h-0.5zM631 214.5h0.5v0.5h-0.5zM631.5 215h0.5v0.5h-0.5zM632 209h0.5v6.5h-0.5zM632.5 203h0.5v0.5h-0.5zM633 203h0.5v0.5h-0.5zM633.5 200.5h0.5v3h-0.5zM634.5 190.5h0.5v0.5h-0.5zM635 179.5h0.5v3.5h-0.5zM635.5 179.5h0.5v1h-0.5zM636 167.5h0.5v7.5h-0.5zM636.5 168h0.5v0.5h-0.5zM637 168h0.5v0.5h-0.5zM637.5 156.5h0.5v10.5h-0.5zM638 156.5h0.5v0.5h-0.5zM638.5 156.5h0.5v1h-0.5zM639 146h0.5v11.5h-0.5zM639.5 146h0.5v1h-0.5zM640 146h0.5v0.5h-0.5zM640.5 135h0.5v11.5h-0.5zM641 135h0.5v1h-0.5zM641.5 134.5h0.5v1.5h-0.5zM642 124.5h0.5v11h-0.5zM642.5 125h0.5v0.5h-0.5zM643 115.5h0.5v10h-0.5zM643.5 116h0.5v0.5h-0.5zM644 115.5h0.5v2h-0.5zM644.5 107h0.5v10h-0.5zM645 106.5h0.5v1h-0.5zM645.5 107h0.5v0.5h-0.5zM646 99h0.5v8.5h-0.5zM646.5 98h0.5v3.5h-0.5zM647 98.5h0.5v2h-0.5zM647.5 90h0.5v10h-0.5zM648 91h0.5v2.5h-0.5zM648.5 85.5h0.5v9h-0.5zM649 83h0.5v2.5h-0.5zM649.5 84.5h0.5v2h-0.5zM650 80h0.5v7.5h-0.5zM650.5 79h0.5v2h-0.5zM651 81h0.5v1.5h-0.5zM651.5 74h0.5v7h-0.5zM652 72.5h0.5v2.5h-0.5zM652.5 72.5h0.5v3h-0.5zM653 72h0.5v4h-0.5zM653.5 70h0.5v2h-0.5zM654 69h0.5v2.5h-0.5zM654.5 70h0.5v4h-0.5zM655 68h0.5v5h-0.5zM655.5 69h0.5v3.5h-0.5zM656 66h0.5v9h-0.5zM656.5 68h0.5v2.5h-0.5zM657 69.5h0.5v3.5h-0.5zM657.5 72.5h0.5v3h-0.5zM658 68h0.5v4.5h-0.5zM658.5 69h0.5v6h-0.5zM659 69.5h0.5v3h-0.5zM659.5 71.5h0.5v0.5h-0.5zM660 71.5h0.5v4.5h-0.5zM660.5 73h0.5v4.5h-0.5zM661 73.5h0.5v4h-0.5zM661.5 74h0.5v3.5h-0.5zM662 77h0.5v2h-0.5zM662.5 77h0.5v5h-0.5zM663 80h0.5v2.5h-0.5zM663.5 80h0.5v3h-0.5zM664 81.5h0.5v6.5h-0.5zM664.5 86.5h0.5v1h-0.5zM665 86.5h0.5v1.5h-0.5zM665.5 87h0.5v7h-0.5zM666 91.5h0.5v4h-0.5zM666.5 92.5h0.5v1.5h-0.5zM667 93h0.5v10h-0.5zM667.5 101h0.5v1.5h-0.5zM668 100h0.5v10h-0.5zM668.5 109.5h0.5v1h-0.5zM669 108h0.5v2h-0.5zM669.5 108.5h0.5v10h-0.5zM670 118h0.5v1h-0.5zM670.5 117.5h0.5v1h-0.5zM671 118.5h0.5v10h-0.5zM671.5 127.5h0.5v1h-0.5zM672 128h0.5v0.5h-0.5zM672.5 127h0.5v11h-0.5zM673 137.5h0.5v1h-0.5zM673.5 137.5h0.5v11.5h-0.5zM674 148h0.5v1h-0.5zM674.5 148h0.5v1h-0.5zM675 148.5h0.5v11.5h-0.5zM675.5 160h0.5v0.5h-0.5zM676 160h0.5v0.5h-0.5zM676.5 160h0.5v8.5h-0.5zM677 170.5h0.5v0.5h-0.5zM677.5 170h0.5v0.5h-0.5zM678 170h0.5v7.5h-0.5zM678.5 181.5h0.5v1h-0.5zM679 182h0.5v0.5h-0.5zM679.5 181.5h0.5v4h-0.5zM679.5 194h0.5v1.5h-0.5zM680 194h0.5v1h-0.5zM680.5 202.5h0.5v4h-0.5zM681 205h0.5v1h-0.5zM681.5 205.5h0.5v0.5h-0.5zM682 210.5h0.5v7.5h-0.5zM682.5 217.5h0.5v0.5h-0.5zM683 217.5h0.5v0.5h-0.5zM683.5 219h0.5v10.5h-0.5zM684 228.5h0.5v1h-0.5zM684.5 229h0.5v0.5h-0.5zM685 228.5h0.5v12h-0.5zM685.5 239h0.5v1h-0.5zM686 239.5h0.5v11.5h-0.5zM686.5 250.5h0.5v0.5h-0.5zM687 250h0.5v1h-0.5zM687.5 250.5h0.5v10h-0.5zM688 259h0.5v1h-0.5zM688.5 259.5h0.5v0.5h-0.5zM689 259.5h0.5v11h-0.5zM689.5 268.5h0.5v2.5h-0.5zM690 269h0.5v0.5h-0.5zM690.5 269h0.5v10.5h-0.5zM691 277.5h0.5v2h-0.5zM691.5 279h0.5v0.5h-0.5zM692 278.5h0.5v8.5h-0.5zM692.5 286.5h0.5v2h-0.5zM693 285.5h0.5v8.5h-0.5zM693.5 293h0.5v1.5h-0.5zM694 294.5h0.5v2h-0.5zM694.5 293.5h0.5v8h-0.5zM695 298.5h0.5v2h-0.5zM695.5 298.5h0.5v2h-0.5zM696 299.5h0.5v5.5h-0.5zM696.5 303.5h0.5v1.5h-0.5zM697 305h0.5v0.5h-0.5zM697.5 304.5h0.5v8.5h-0.5zM698 308.5h0.5v2h-0.5zM698.5 307h0.5v7h-0.5zM699 314h0.5v2.5h-0.5zM699.5 313.5h0.5v0.5h-0.5zM700 312h0.5v2.5h-0.5zM700.5 314.5h0.5v4.5h-0.5zM701 316.5h0.5v2h-0.5zM701.5 310h0.5v6.5h-0.5zM702 312.5h0.5v5h-0.5zM702.5 314h0.5v2h-0.5zM703 313h0.5v2.5h-0.5zM703.5 314.5h0.5v4h-0.5zM704 316h0.5v2h-0.5zM704.5 312.5h0.5v3.5h-0.5zM705 310h0.5v2.5h-0.5zM705.5 309.5h0.5v7h-0.5zM706 307h0.5v2.5h-0.5zM706.5 309.5h0.5v2.5h-0.5zM707 305h0.5v7h-0.5zM707.5 306h0.5v1h-0.5zM708 305.5h0.5v0.5h-0.5zM708.5 303h0.5v5h-0.5zM709 302.5h0.5v1.5h-0.5zM709.5 303.5h0.5v0.5h-0.5zM710 294.5h0.5v9h-0.5zM710.5 298h0.5v1h-0.5zM711 291h0.5v8h-0.5zM711.5 288.5h0.5v3.5h-0.5zM712 289.5h0.5v1.5h-0.5zM712.5 283h0.5v9.5h-0.5zM713 282.5h0.5v2h-0.5zM713.5 284h0.5v1.5h-0.5zM714 276h0.5v9h-0.5zM714.5 275h0.5v1h-0.5zM715 276h0.5v0.5h-0.5zM715.5 267h0.5v9.5h-0.5zM716 267h0.5v0.5h-0.5zM716.5 267h0.5v0.5h-0.5zM717 257h0.5v10.5h-0.5zM717.5 257h0.5v0.5h-0.5zM718 247.5h0.5v10.5h-0.5zM718.5 247h0.5v0.5h-0.5zM719 247h0.5v0.5h-0.5zM719.5 236h0.5v12h-0.5zM720 236h0.5v1h-0.5zM720.5 236.5h0.5v0.5h-0.5zM721 225h0.5v11.5h-0.5zM721.5 225h0.5v0.5h-0.5zM722 225.5h0.5v0.5h-0.5zM722.5 216.5h0.5v9.5h-0.5zM723 213h0.5v0.5h-0.5zM723.5 208.5h0.5v5h-0.5zM724 202h0.5v0.5h-0.5zM724.5 202h0.5v0.5h-0.5zM725 190h0.5v1h-0.5zM725 200h0.5v2.5h-0.5zM725.5 190.5h0.5v0.5h-0.5zM726 190.5h0.5v0.5h-0.5zM726.5 178.5h0.5v4h-0.5zM727 179h0.5v0.5h-0.5zM727.5 178.5h0.5v1h-0.5zM728 168h0.5v6.5h-0.5zM728.5 168.5h0.5v0.5h-0.5zM729 168h0.5v1h-0.5zM729.5 156h0.5v10.5h-0.5zM730 155.5h0.5v0.5h-0.5zM730.5 144.5h0.5v12h-0.5zM731 144.5h0.5v0.5h-0.5zM731.5 144.5h0.5v1h-0.5zM732 135h0.5v10h-0.5zM732.5 134.5h0.5v0.5h-0.5zM733 134.5h0.5v1h-0.5zM733.5 124h0.5v11.5h-0.5zM734 124h0.5v0.5h-0.5zM734.5 124.5h0.5v1h-0.5zM735 114h0.5v11h-0.5zM735.5 115.5h0.5v1h-0.5zM736 107h0.5v8.5h-0.5zM736.5 107h0.5v0.5h-0.5zM737 105.5h0.5v2h-0.5zM737.5 97.5h0.5v10h-0.5zM738 98h0.5v0.5h-0.5zM738.5 97h0.5v1.5h-0.5zM739 91h0.5v7.5h-0.5zM739.5 90h0.5v1h-0.5zM740 90h0.5v1.5h-0.5zM740.5 84h0.5v7.5h-0.5zM741 84.5h0.5v3h-0.5zM741.5 85.5h0.5v3.5h-0.5zM742 80h0.5v7h-0.5zM742.5 78h0.5v4h-0.5zM743 74.5h0.5v8h-0.5zM743.5 74.5h0.5v1.5h-0.5zM744 76h0.5v1.5h-0.5zM744.5 73.5h0.5v3h-0.5zM745 71.5h0.5v2.5h-0.5zM745.5 69h0.5v5h-0.5zM746 70.5h0.5v3.5h-0.5zM746.5 69.5h0.5v1.5h-0.5zM747 69.5h0.5v1h-0.5zM747.5 65h0.5v6.5h-0.5zM748 68h0.5v3h-0.5zM748.5 66.5h0.5v3h-0.5zM749 68h0.5v3h-0.5zM749.5 68.5h0.5v3h-0.5zM750 68.5h0.5v5h-0.5zM750.5 69h0.5v7.5h-0.5zM751 71h0.5v5h-0.5zM751.5 70h0.5v5.5h-0.5zM752 75.5h0.5v2h-0.5zM752.5 74.5h0.5v3.5h-0.5zM753 74h0.5v4.5h-0.5zM753.5 77h0.5v2.5h-0.5zM754 79.5h0.5v1.5h-0.5zM754.5 78h0.5v4.5h-0.5zM755 81.5h0.5v2h-0.5zM755.5 83.5h0.5v2h-0.5zM756 82h0.5v6.5h-0.5zM756.5 88h0.5v2h-0.5zM757 87.5h0.5v7.5h-0.5zM757.5 93.5h0.5v2.5h-0.5zM758 92h0.5v1.5h-0.5zM758.5 93.5h0.5v9h-0.5zM759 101.5h0.5v2h-0.5zM759.5 100.5h0.5v1.5h-0.5zM760 101h0.5v8.5h-0.5zM760.5 109h0.5v0.5h-0.5zM761 108.5h0.5v0.5h-0.5zM761.5 109h0.5v10h-0.5zM762 118.5h0.5v1h-0.5zM762.5 118h0.5v11h-0.5zM763 128.5h0.5v1h-0.5zM763.5 128h0.5v1h-0.5zM764 127.5h0.5v11.5h-0.5zM764.5 138.5h0.5v0.5h-0.5zM765 139h0.5v0.5h-0.5zM765.5 138.5h0.5v11.5h-0.5zM766 149h0.5v1h-0.5zM766.5 149h0.5v0.5h-0.5zM767 149.5h0.5v11h-0.5zM767.5 159.5h0.5v1h-0.5zM768 159.5h0.5v0.5h-0.5zM768.5 160h0.5v10h-0.5zM769 171.5h0.5v0.5h-0.5zM769.5 171.5h0.5v5.5h-0.5zM770 183h0.5v0.5h-0.5zM770.5 183h0.5v0.5h-0.5zM771 183h0.5v3h-0.5zM771 195h0.5v0.5h-0.5zM771.5 195h0.5v0.5h-0.5zM772 195h0.5v0.5h-0.5zM772.5 203h0.5v3.5h-0.5zM773 206h0.5v0.5h-0.5zM773.5 206h0.5v0.5h-0.5zM774 211.5h0.5v6.5h-0.5zM774.5 218h0.5v0.5h-0.5zM775 217.5h0.5v1h-0.5zM775.5 219.5h0.5v10.5h-0.5zM776 229.5h0.5v0.5h-0.5zM776.5 229.5h0.5v11h-0.5zM777 240h0.5v0.5h-0.5zM777.5 240h0.5v0.5h-0.5zM778 240h0.5v11.5h-0.5zM778.5 250.5h0.5v0.5h-0.5zM779 251h0.5v1h-0.5zM779.5 251h0.5v11h-0.5zM780 261.5h0.5v0.5h-0.5zM780.5 261h0.5v1h-0.5zM781 261h0.5v11h-0.5zM781.5 269.5h0.5v0.5h-0.5zM782 269.5h0.5v10h-0.5zM782.5 279h0.5v1h-0.5zM783 277.5h0.5v1.5h-0.5zM783.5 278.5h0.5v8.5h-0.5zM784 287h0.5v0.5h-0.5zM784.5 286.5h0.5v0.5h-0.5zM785 287h0.5v8h-0.5zM785.5 294h0.5v2h-0.5zM786 291.5h0.5v2.5h-0.5zM786.5 293h0.5v8h-0.5zM787 299.5h0.5v3h-0.5zM787.5 299h0.5v1.5h-0.5zM788 299.5h0.5v6.5h-0.5zM788.5 304.5h0.5v3.5h-0.5zM789 305h0.5v4.5h-0.5zM789.5 309h0.5v1.5h-0.5zM790 307h0.5v4h-0.5zM790.5 307h0.5v5.5h-0.5zM791 312h0.5v3.5h-0.5zM791.5 310.5h0.5v2.5h-0.5zM792 310h0.5v5.5h-0.5zM792.5 314h0.5v2.5h-0.5zM793 314h0.5v0.5h-0.5zM793.5 314.5h0.5v4.5h-0.5zM794 313.5h0.5v4h-0.5zM794.5 312.5h0.5v4.5h-0.5zM795 312.5h0.5v3.5h-0.5zM795.5 314h0.5v4h-0.5zM796 312h0.5v5.5h-0.5zM796.5 310h0.5v5.5h-0.5zM797 312h0.5v2h-0.5zM797.5 310.5h0.5v3.5h-0.5zM798 310.5h0.5v3.5h-0.5zM798.5 310h0.5v2.5h-0.5zM799 306h0.5v5.5h-0.5zM799.5 307.5h0.5v2h-0.5zM800 306h0.5v1.5h-0.5zM800.5 300.5h0.5v8h-0.5zM801 300h0.5v6.5h-0.5zM801.5 300h0.5v1.5h-0.5zM802 296.5h0.5v6.5h-0.5zM802.5 298h0.5v3h-0.5zM803 291h0.5v7h-0.5zM803.5 291h0.5v2.5h-0.5zM804 291h0.5v1.5h-0.5zM804.5 283.5h0.5v8h-0.5zM805 282h0.5v2h-0.5zM805.5 283.5h0.5v1.5h-0.5zM806 275h0.5v9.5h-0.5zM806.5 274.5h0.5v2h-0.5zM807 274.5h0.5v1h-0.5zM807.5 265.5h0.5v10h-0.5zM808 265.5h0.5v0.5h-0.5zM808.5 256h0.5v10.5h-0.5zM809 256h0.5v1h-0.5zM809.5 256h0.5v0.5h-0.5zM810 246.5h0.5v10.5h-0.5zM810.5 245.5h0.5v1h-0.5zM811 246h0.5v1h-0.5zM811.5 236h0.5v10.5h-0.5zM812 236.5h0.5v0.5h-0.5zM812.5 235.5h0.5v1h-0.5zM813 224.5h0.5v12h-0.5zM813.5 224.5h0.5v0.5h-0.5zM814 224.5h0.5v0.5h-0.5zM814.5 216h0.5v8.5h-0.5zM815 212.5h0.5v0.5h-0.5zM815.5 208h0.5v6h-0.5zM816 201h0.5v1.5h-0.5zM816.5 201.5h0.5v0.5h-0.5zM817 189h0.5v1h-0.5zM817 199.5h0.5v3h-0.5zM817.5 189.5h0.5v0.5h-0.5zM818 189.5h0.5v0.5h-0.5zM818.5 178h0.5v4h-0.5zM819 178h0.5v0.5h-0.5zM819.5 178h0.5v0.5h-0.5zM820 166h0.5v8h-0.5zM820.5 166.5h0.5v0.5h-0.5zM821 166.5h0.5v0.5h-0.5zM821.5 154.5h0.5v11h-0.5zM822 155h0.5v0.5h-0.5zM822.5 144.5h0.5v11.5h-0.5zM823 144.5h0.5v0.5h-0.5zM823.5 144.5h0.5v1h-0.5zM824 133.5h0.5v12h-0.5zM824.5 134h0.5v0.5h-0.5zM825 134h0.5v0.5h-0.5zM825.5 124h0.5v10.5h-0.5zM826 124h0.5v0.5h-0.5zM826.5 123h0.5v1h-0.5zM827 114h0.5v10.5h-0.5zM827.5 114h0.5v1h-0.5zM828 105.5h0.5v10h-0.5zM828.5 106h0.5v0.5h-0.5zM829 105.5h0.5v1h-0.5zM829.5 97h0.5v9.5h-0.5zM830 97.5h0.5v0.5h-0.5zM830.5 97h0.5v1h-0.5zM831 90.5h0.5v8.5h-0.5zM831.5 91h0.5v0.5h-0.5zM832 90h0.5v1h-0.5zM832.5 84h0.5v6.5h-0.5zM833 82.5h0.5v3h-0.5zM833.5 84.5h0.5v3.5h-0.5zM834 78.5h0.5v8h-0.5zM834.5 79h0.5v1.5h-0.5zM835 74h0.5v6.5h-0.5zM835.5 76.5h0.5v2.5h-0.5zM836 76.5h0.5v3.5h-0.5zM836.5 69h0.5v9h-0.5zM837 72.5h0.5v3.5h-0.5zM837.5 74h0.5v2h-0.5zM838 71h0.5v4h-0.5zM838.5 66h0.5v8h-0.5zM839 68.5h0.5v3.5h-0.5zM839.5 68h0.5v3.5h-0.5zM840 69h0.5v2.5h-0.5zM840.5 69.5h0.5v1.5h-0.5zM841 69.5h0.5v4.5h-0.5zM841.5 70.5h0.5v4.5h-0.5zM842 69.5h0.5v2.5h-0.5zM842.5 66.5h0.5v7h-0.5zM843 68.5h0.5v7.5h-0.5zM843.5 69h0.5v7h-0.5zM844 74.5h0.5v4h-0.5zM844.5 73.5h0.5v1.5h-0.5zM845 74h0.5v4h-0.5zM845.5 75h0.5v3.5h-0.5zM846 74h0.5v2.5h-0.5zM846.5 75.5h0.5v9.5h-0.5zM847 81.5h0.5v4.5h-0.5zM847.5 82.5h0.5v1h-0.5zM848 82h0.5v9.5h-0.5zM848.5 87.5h0.5v2h-0.5zM849 88h0.5v7h-0.5zM849.5 94.5h0.5v1h-0.5zM850 93h0.5v2h-0.5zM850.5 94h0.5v8h-0.5zM851 100h0.5v1.5h-0.5zM851.5 100.5h0.5v1h-0.5zM852 101h0.5v10h-0.5zM852.5 109.5h0.5v1h-0.5zM853 109.5h0.5v0.5h-0.5zM853.5 109h0.5v12h-0.5zM854 119.5h0.5v1h-0.5zM854.5 118.5h0.5v11h-0.5zM855 128.5h0.5v0.5h-0.5zM855.5 128h0.5v0.5h-0.5zM856 128.5h0.5v11h-0.5zM856.5 139h0.5v0.5h-0.5zM857 139.5h0.5v0.5h-0.5zM857.5 138.5h0.5v11.5h-0.5zM858 149.5h0.5v0.5h-0.5zM858.5 150h0.5v0.5h-0.5zM859 149.5h0.5v12h-0.5zM859.5 161h0.5v0.5h-0.5zM860 161h0.5v0.5h-0.5zM860.5 160.5h0.5v9.5h-0.5zM861 172.5h0.5v0.5h-0.5zM861.5 172h0.5v6h-0.5zM862 184.5h0.5v0.5h-0.5zM862.5 184.5h0.5v0.5h-0.5zM863 184.5h0.5v1h-0.5zM863 195h0.5v1.5h-0.5zM863.5 195.5h0.5v1h-0.5zM864 196.5h0.5v0.5h-0.5zM864.5 203.5h0.5v4.5h-0.5zM865 207.5h0.5v0.5h-0.5zM865.5 207h0.5v0.5h-0.5zM866 212h0.5v8h-0.5zM866.5 219h0.5v0.5h-0.5zM867 219h0.5v1h-0.5zM867.5 219.5h0.5v11.5h-0.5zM868 230h0.5v0.5h-0.5zM868.5 230h0.5v12h-0.5zM869 241h0.5v0.5h-0.5zM869.5 241.5h0.5v0.5h-0.5zM870 241h0.5v11.5h-0.5zM870.5 252h0.5v0.5h-0.5zM871 252h0.5v1h-0.5zM871.5 251.5h0.5v10.5h-0.5zM872 261h0.5v0.5h-0.5zM872.5 260.5h0.5v2.5h-0.5zM873 262h0.5v10h-0.5zM873.5 271h0.5v1h-0.5zM874 271h0.5v9h-0.5zM874.5 279.5h0.5v0.5h-0.5zM875 279.5h0.5v1.5h-0.5zM875.5 279h0.5v8.5h-0.5zM876 286h0.5v0.5h-0.5zM876.5 286.5h0.5v2h-0.5zM877 287h0.5v9.5h-0.5zM877.5 293h0.5v2h-0.5zM878 293h0.5v1h-0.5zM878.5 294h0.5v8h-0.5zM879 298h0.5v2h-0.5zM879.5 297h0.5v2.5h-0.5zM880 298.5h0.5v7h-0.5zM880.5 305.5h0.5v1.5h-0.5zM881 305.5h0.5v5h-0.5zM881.5 310.5h0.5v2h-0.5zM882 311h0.5v3h-0.5zM882.5 308h0.5v6.5h-0.5zM883 311.5h0.5v2.5h-0.5zM883.5 314h0.5v2.5h-0.5zM884 312.5h0.5v2h-0.5zM884.5 312h0.5v6.5h-0.5zM885 314.5h0.5v2h-0.5zM885.5 310.5h0.5v4.5h-0.5zM886 312h0.5v4.5h-0.5zM886.5 311h0.5v7h-0.5zM887 312.5h0.5v4h-0.5zM887.5 310.5h0.5v4.5h-0.5zM888 312h0.5v3.5h-0.5zM888.5 312h0.5v2h-0.5zM889 314h0.5v2.5h-0.5zM889.5 310.5h0.5v5.5h-0.5zM890 310.5h0.5v5h-0.5zM890.5 311.5h0.5v2.5h-0.5zM891 305h0.5v7.5h-0.5zM891.5 306.5h0.5v2h-0.5zM892 307.5h0.5v1h-0.5zM892.5 301h0.5v7h-0.5zM893 299h0.5v5h-0.5zM893.5 299h0.5v2.5h-0.5zM894 296.5h0.5v6.5h-0.5zM894.5 297h0.5v2.5h-0.5zM895 290.5h0.5v6.5h-0.5zM895.5 291.5h0.5v1h-0.5zM896 291.5h0.5v1h-0.5zM896.5 282.5h0.5v9h-0.5zM897 281h0.5v2h-0.5zM897.5 282h0.5v1.5h-0.5zM898 274h0.5v9.5h-0.5zM898.5 273.5h0.5v2.5h-0.5zM899 275.5h0.5v1h-0.5zM899.5 264.5h0.5v11h-0.5zM900 265h0.5v1h-0.5zM900.5 256h0.5v10h-0.5zM901 256h0.5v1h-0.5zM901.5 256h0.5v0.5h-0.5zM902 245.5h0.5v12h-0.5zM902.5 245h0.5v1.5h-0.5zM903 245.5h0.5v0.5h-0.5zM903.5 235h0.5v11h-0.5zM904 235h0.5v1h-0.5zM904.5 235h0.5v0.5h-0.5zM905 224.5h0.5v11.5h-0.5zM905.5 224h0.5v0.5h-0.5zM906 224.5h0.5v0.5h-0.5zM906.5 215h0.5v9.5h-0.5zM907 212h0.5v0.5h-0.5zM907.5 207h0.5v5.5h-0.5zM908 200h0.5v0.5h-0.5zM908.5 200h0.5v0.5h-0.5zM909 189h0.5v0.5h-0.5zM909 198.5h0.5v2h-0.5zM909.5 188.5h0.5v0.5h-0.5zM910 189h0.5v0.5h-0.5zM910.5 177h0.5v4h-0.5zM911 177h0.5v0.5h-0.5zM911.5 177h0.5v0.5h-0.5zM912 165.5h0.5v8h-0.5zM912.5 165.5h0.5v0.5h-0.5zM913 165.5h0.5v0.5h-0.5zM913.5 154.5h0.5v11h-0.5zM914 154h0.5v1h-0.5zM914.5 143.5h0.5v11.5h-0.5zM915 143h0.5v0.5h-0.5zM915.5 143.5h0.5v0.5h-0.5zM916 132.5h0.5v12h-0.5zM916.5 133h0.5v0.5h-0.5zM917 132.5h0.5v0.5h-0.5zM917.5 123.5h0.5v10h-0.5zM918 123h0.5v1h-0.5zM918.5 123h0.5v2h-0.5zM919 113h0.5v11h-0.5zM919.5 113h0.5v1h-0.5zM920 112.5h0.5v1h-0.5zM920.5 105h0.5v9.5h-0.5zM921 103.5h0.5v1.5h-0.5zM921.5 97.5h0.5v8h-0.5zM922 98h0.5v1.5h-0.5zM922.5 97h0.5v1.5h-0.5zM923 90h0.5v8.5h-0.5zM923.5 89h0.5v1h-0.5zM924 89.5h0.5v1.5h-0.5zM924.5 83.5h0.5v8.5h-0.5zM925 84h0.5v1.5h-0.5zM925.5 82.5h0.5v1.5h-0.5zM926 79.5h0.5v6h-0.5zM926.5 79.5h0.5v1.5h-0.5zM927 80h0.5v2.5h-0.5zM927.5 75h0.5v5h-0.5zM928 75h0.5v1h-0.5zM928.5 74h0.5v5.5h-0.5zM929 72.5h0.5v5h-0.5zM929.5 72h0.5v0.5h-0.5zM930 70.5h0.5v3.5h-0.5zM930.5 70h0.5v0.5h-0.5zM931 70.5h0.5v3.5h-0.5zM931.5 69h0.5v3h-0.5zM932 68h0.5v1.5h-0.5zM932.5 66.5h0.5v1.5h-0.5zM933 67.5h0.5v3h-0.5zM933.5 65.5h0.5v6h-0.5zM934 67.5h0.5v5h-0.5zM934.5 70.5h0.5v4h-0.5zM935 70.5h0.5v2h-0.5zM935.5 69h0.5v5h-0.5zM936 71.5h0.5v3h-0.5zM936.5 70.5h0.5v3.5h-0.5zM937 73.5h0.5v5h-0.5zM937.5 77h0.5v3h-0.5zM938 80h0.5v1h-0.5zM938.5 77.5h0.5v5h-0.5zM939 80.5h0.5v2h-0.5zM939.5 81.5h0.5v1.5h-0.5zM940 82.5h0.5v6.5h-0.5zM940.5 86.5h0.5v4h-0.5zM941 89h0.5v1h-0.5zM941.5 88.5h0.5v7h-0.5zM942 95h0.5v1h-0.5zM942.5 95.5h0.5v0.5h-0.5zM943 95h0.5v7.5h-0.5zM943.5 102.5h0.5v1h-0.5zM944 103h0.5v1h-0.5zM944.5 102h0.5v10h-0.5zM945 110.5h0.5v1h-0.5zM945.5 111h0.5v9h-0.5zM946 120h0.5v0.5h-0.5zM946.5 119.5h0.5v1h-0.5zM947 119.5h0.5v11h-0.5zM947.5 129h0.5v0.5h-0.5zM948 129h0.5v1.5h-0.5zM948.5 129.5h0.5v11h-0.5zM949 140h0.5v0.5h-0.5zM949.5 139.5h0.5v1h-0.5zM950 140h0.5v11.5h-0.5zM950.5 150.5h0.5v1h-0.5zM951 150.5h0.5v1h-0.5zM951.5 151h0.5v11.5h-0.5zM952 161.5h0.5v0.5h-0.5zM952.5 161h0.5v9.5h-0.5zM953 173h0.5v1h-0.5zM953.5 173h0.5v1h-0.5zM954 173.5h0.5v5h-0.5zM954.5 184.5h0.5v0.5h-0.5zM955 185h0.5v0.5h-0.5zM955.5 184.5h0.5v2.5h-0.5zM955.5 196h0.5v1.5h-0.5zM956 196.5h0.5v0.5h-0.5zM956.5 196.5h0.5v0.5h-0.5zM957 204h0.5v4.5h-0.5zM957.5 208h0.5v0.5h-0.5zM958 207.5h0.5v0.5h-0.5zM958.5 213h0.5v8h-0.5zM959 220h0.5v0.5h-0.5zM959.5 220h0.5v0.5h-0.5zM960 221h0.5v10.5h-0.5zM960.5 231h0.5v0.5h-0.5zM961 230.5h0.5v12h-0.5zM961.5 242h0.5v0.5h-0.5zM962 242h0.5v0.5h-0.5zM962.5 242h0.5v11h-0.5zM963 252h0.5v0.5h-0.5zM963.5 252h0.5v1h-0.5zM964 251.5h0.5v11h-0.5zM964.5 262h0.5v1h-0.5zM965 262h0.5v0.5h-0.5zM965.5 262h0.5v11h-0.5zM966 271h0.5v2h-0.5zM966.5 270.5h0.5v1.5h-0.5zM967 272h0.5v8.5h-0.5zM967.5 280.5h0.5v0.5h-0.5zM968 279.5h0.5v9h-0.5zM968.5 286h0.5v3h-0.5zM969 287.5h0.5v1h-0.5zM969.5 286.5h0.5v9h-0.5zM970 293h0.5v2.5h-0.5zM970.5 292h0.5v4h-0.5zM971 293.5h0.5v8h-0.5zM971.5 298h0.5v4.5h-0.5zM972 299.5h0.5v1.5h-0.5zM972.5 301h0.5v5.5h-0.5zM973 304h0.5v2h-0.5zM973.5 302h0.5v2h-0.5zM974 304h0.5v7h-0.5zM974.5 309.5h0.5v4h-0.5zM975 305.5h0.5v7.5h-0.5zM975.5 308h0.5v4h-0.5zM976 312h0.5v4.5h-0.5zM976.5 312.5h0.5v3.5h-0.5zM977 314.5h0.5v4h-0.5zM977.5 314h0.5v3h-0.5zM978 312h0.5v4h-0.5zM978.5 314h0.5v1.5h-0.5zM979 315.5h0.5v1.5h-0.5zM979.5 314.5h0.5v3h-0.5zM980 315h0.5v1.5h-0.5zM980.5 311.5h0.5v5h-0.5zM981 310.5h0.5v5h-0.5zM981.5 311h0.5v2h-0.5zM982 311h0.5v5.5h-0.5zM982.5 311.5h0.5v3h-0.5zM983 310h0.5v3.5h-0.5zM983.5 305h0.5v8h-0.5zM984 303.5h0.5v2h-0.5zM984.5 305.5h0.5v2.5h-0.5zM985 302.5h0.5v5.5h-0.5zM985.5 302.5h0.5v4h-0.5zM986 302h0.5v2.5h-0.5zM986.5 294h0.5v9h-0.5zM987 294.5h0.5v3h-0.5zM987.5 295h0.5v1h-0.5zM988 289h0.5v8h-0.5zM988.5 287.5h0.5v2h-0.5zM989 289h0.5v1.5h-0.5zM989.5 281.5h0.5v8.5h-0.5zM990 280.5h0.5v1h-0.5zM990.5 273.5h0.5v9h-0.5zM991 273h0.5v2h-0.5zM991.5 273h0.5v0.5h-0.5zM992 265.5h0.5v8.5h-0.5zM992.5 264.5h0.5v1h-0.5zM993 265h0.5v0.5h-0.5zM993.5 255h0.5v11h-0.5zM994 255h0.5v0.5h-0.5zM994.5 255.5h0.5v0.5h-0.5zM995 245.5h0.5v11h-0.5zM995.5 245h0.5v0.5h-0.5zM996 245h0.5v0.5h-0.5zM996.5 233.5h0.5v12.5h-0.5zM997 233.5h0.5v0.5h-0.5zM997.5 233.5h0.5v1h-0.5zM998 223h0.5v11.5h-0.5zM998.5 222.5h0.5v1h-0.5zM999 215.5h0.5v7.5h-0.5zM999.5 211.5h0.5v0.5h-0.5zM1000 211.5h0.5v1h-0.5zM1000.5 206.5h0.5v5.5h-0.5zM1001 199.5h0.5v1h-0.5zM1001.5 199h0.5v1h-0.5zM1002 188.5h0.5v1h-0.5zM1002 198h0.5v2h-0.5zM1002.5 188.5h0.5v0.5h-0.5zM1003 188.5h0.5v0.5h-0.5z"/><path fill="#ff0000" d="M80.5 187h0.5v9h-0.5zM81 187h0.5v0.5h-0.5zM81.5 186.5h0.5v0.5h-0.5zM82 178.5h0.5v8.5h-0.5zM82.5 178.5h0.5v0.5h-0.5zM83 170.5h0.5v8.5h-0.5zM83.5 170h0.5v0.5h-0.5zM84 170h0.5v0.5h-0.5zM84.5 163h0.5v7.5h-0.5zM85 163h0.5v0.5h-0.5zM85.5 163h0.5v0.5h-0.5zM86 155h0.5v8h-0.5zM86.5 154.5h0.5v0.5h-0.5zM87 155h0.5v0.5h-0.5zM87.5 148h0.5v8h-0.5zM88 148h0.5v0.5h-0.5zM88.5 147.5h0.5v1h-0.5zM89 140h0.5v8h-0.5zM89.5 141h0.5v0.5h-0.5zM90 140.5h0.5v0.5h-0.5zM90.5 134h0.5v7.5h-0.5zM91 133h0.5v1.5h-0.5zM91.5 127.5h0.5v7h-0.5zM92 128h0.5v1h-0.5zM92.5 126.5h0.5v2.5h-0.5zM93 123h0.5v6h-0.5zM93.5 123h0.5v1h-0.5zM94 122.5h0.5v1.5h-0.5zM94.5 119h0.5v4.5h-0.5zM95 116.5h0.5v3h-0.5zM95.5 118h0.5v2.5h-0.5zM96 111.5h0.5v10h-0.5zM96.5 112.5h0.5v1.5h-0.5zM97 114h0.5v2h-0.5zM97.5 110h0.5v5.5h-0.5zM98 112.5h0.5v2h-0.5zM98.5 106.5h0.5v6h-0.5zM99 104h0.5v4.5h-0.5zM99.5 108.5h0.5v1.5h-0.5zM100 106h0.5v5h-0.5zM100.5 106.5h0.5v4h-0.5zM101 106h0.5v2.5h-0.5zM101.5 105h0.5v2h-0.5zM102 104.5h0.5v1.5h-0.5zM102.5 103h0.5v5.5h-0.5zM103 105h0.5v4.5h-0.5zM103.5 104.5h0.5v2.5h-0.5zM104 106h0.5v2h-0.5zM104.5 105.5h0.5v2h-0.5zM105 105.5h0.5v2h-0.5zM105.5 107h0.5v3h-0.5zM106 105.5h0.5v2.5h-0.5zM106.5 105.5h0.5v2.5h-0.5zM107 105.5h0.5v4.5h-0.5zM107.5 110h0.5v1.5h-0.5zM108 107.5h0.5v3.5h-0.5zM108.5 109h0.5v4h-0.5zM109 111.5h0.5v3h-0.5zM109.5 112h0.5v2.5h-0.5zM110 112.5h0.5v4h-0.5zM110.5 113h0.5v5h-0.5zM111 114h0.5v2.5h-0.5zM111.5 115.5h0.5v5h-0.5zM112 119h0.5v2h-0.5zM112.5 120h0.5v1h-0.5zM113 120h0.5v6.5h-0.5zM113.5 125.5h0.5v0.5h-0.5zM114 124.5h0.5v6.5h-0.5zM114.5 130.5h0.5v1.5h-0.5zM115 131.5h0.5v1h-0.5zM115.5 129.5h0.5v8h-0.5zM116 137h0.5v1h-0.5zM116.5 137h0.5v0.5h-0.5zM117 136.5h0.5v7h-0.5zM117.5 143h0.5v0.5h-0.5zM118 143h0.5v1h-0.5zM118.5 143h0.5v8h-0.5zM119 151h0.5v0.5h-0.5zM119.5 150.5h0.5v0.5h-0.5zM120 150.5h0.5v7.5h-0.5zM120.5 157.5h0.5v0.5h-0.5zM121 157.5h0.5v0.5h-0.5zM121.5 158h0.5v8h-0.5zM122 166h0.5v0.5h-0.5zM122.5 165.5h0.5v8.5h-0.5zM123 173.5h0.5v1h-0.5zM123.5 173.5h0.5v1h-0.5zM124 173.5h0.5v8.5h-0.5zM124.5 182h0.5v0.5h-0.5zM125 182h0.5v1h-0.5zM125.5 182h0.5v8.5h-0.5zM126 190h0.5v0.5h-0.5zM126.5 190h0.5v0.5h-0.5zM127 190h0.5v9h-0.5zM127.5 198h0.5v1h-0.5zM128 198.5h0.5v0.5h-0.5zM128.5 198.5h0.5v8.5h-0.5zM129 206.5h0.5v0.5h-0.5zM129.5 206h0.5v1h-0.5zM130 206.5h0.5v9h-0.5zM130.5 215h0.5v0.5h-0.5zM131 214.5h0.5v9h-0.5zM131.5 222.5h0.5v0.5h-0.5zM132 222.5h0.5v0.5h-0.5zM132.5 222.5h0.5v8h-0.5zM133 229.5h0.5v0.5h-0.5zM133.5 229.5h0.5v1h-0.5zM134 230h0.5v8h-0.5zM134.5 237.5h0.5v0.5h-0.5zM135 237h0.5v1h-0.5zM135.5 237.5h0.5v7.5h-0.5zM136 244h0.5v0.5h-0.5zM136.5 243.5h0.5v2h-0.5zM137 244h0.5v7h-0.5zM137.5 251h0.5v1.5h-0.5zM138 250.5h0.5v6.5h-0.5zM138.5 256h0.5v1.5h-0.5zM139 257h0.5v1.5h-0.5zM139.5 257h0.5v5.5h-0.5zM140 261.5h0.5v1h-0.5zM140.5 262h0.5v1h-0.5zM141 262h0.5v6.5h-0.5zM141.5 265.5h0.5v2h-0.5zM142 267.5h0.5v1.5h-0.5zM142.5 266.5h0.5v4.5h-0.5zM143 269.5h0.5v2h-0.5zM143.5 271h0.5v0.5h-0.5zM144 271h0.5v4h-0.5zM144.5 272h0.5v2.5h-0.5zM145 274.5h0.5v3.5h-0.5zM145.5 275h0.5v5h-0.5zM146 279h0.5v2h-0.5zM146.5 275h0.5v4h-0.5zM147 278.5h0.5v0.5h-0.5zM147.5 279h0.5v1.5h-0.5zM148 275h0.5v7h-0.5zM148.5 276h0.5v2h-0.5zM149 278h0.5v2.5h-0.5zM149.5 279h0.5v1.5h-0.5zM150 277.5h0.5v3h-0.5zM150.5 279.5h0.5v4.5h-0.5zM151 278.5h0.5v5h-0.5zM151.5 277h0.5v5h-0.5zM152 275h0.5v6.5h-0.5zM152.5 277h0.5v3.5h-0.5zM153 278h0.5v1.5h-0.5zM153.5 275h0.5v4h-0.5zM154 274h0.5v3.5h-0.5zM154.5 273h0.5v1h-0.5zM155 272h0.5v3.5h-0.5zM155.5 270h0.5v2.5h-0.5zM156 271h0.5v2h-0.5zM156.5 268h0.5v4h-0.5zM157 267.5h0.5v3.5h-0.5zM157.5 268h0.5v0.5h-0.5zM158 262h0.5v7.5h-0.5zM158.5 262h0.5v1h-0.5zM159 263h0.5v2.5h-0.5zM159.5 259.5h0.5v5.5h-0.5zM160 259h0.5v1h-0.5zM160.5 259h0.5v1h-0.5zM161 252.5h0.5v7.5h-0.5zM161.5 252.5h0.5v1h-0.5zM162 248h0.5v6.5h-0.5zM162.5 248h0.5v1h-0.5zM163 247h0.5v1h-0.5zM163.5 240.5h0.5v8h-0.5zM164 241h0.5v0.5h-0.5zM164.5 241h0.5v1h-0.5zM165 234h0.5v8.5h-0.5zM165.5 234h0.5v0.5h-0.5zM166 234h0.5v1h-0.5zM166.5 227h0.5v8h-0.5zM167 227h0.5v1h-0.5zM167.5 227h0.5v0.5h-0.5zM168 219.5h0.5v8.5h-0.5zM168.5 219.5h0.5v0.5h-0.5zM169 219.5h0.5v0.5h-0.5zM169.5 211h0.5v8.5h-0.5zM170 211h0.5v0.5h-0.5zM170.5 203h0.5v9h-0.5zM171 203h0.5v0.5h-0.5zM171.5 203h0.5v0.5h-0.5zM172 194h0.5v9.5h-0.5zM172.5 194.5h0.5v0.5h-0.5zM173 194.5h0.5v0.5h-0.5zM173.5 186.5h0.5v8.5h-0.5zM174 186.5h0.5v0.5h-0.5zM174.5 186.5h0.5v0.5h-0.5zM175 178.5h0.5v9h-0.5zM175.5 178.5h0.5v0.5h-0.5zM176 178.5h0.5v0.5h-0.5zM176.5 169.5h0.5v9h-0.5zM177 170h0.5v0.5h-0.5zM177.5 162h0.5v8.5h-0.5zM178 162.5h0.5v0.5h-0.5zM178.5 162.5h0.5v0.5h-0.5zM179 154h0.5v8.5h-0.5zM179.5 154h0.5v0.5h-0.5zM180 154.5h0.5v0.5h-0.5zM180.5 147h0.5v8h-0.5zM181 147h0.5v0.5h-0.5zM181.5 147h0.5v1h-0.5zM182 140.5h0.5v6.5h-0.5zM182.5 140h0.5v1h-0.5zM183 140.5h0.5v0.5h-0.5zM183.5 134h0.5v6.5h-0.5zM184 133.5h0.5v1h-0.5zM184.5 128h0.5v7h-0.5zM185 128h0.5v0.5h-0.5zM185.5 126.5h0.5v2.5h-0.5zM186 121.5h0.5v7h-0.5zM186.5 122h0.5v1h-0.5zM187 123h0.5v1h-0.5zM187.5 118.5h0.5v5h-0.5zM188 119h0.5v2.5h-0.5zM188.5 117.5h0.5v2h-0.5zM189 114h0.5v5h-0.5zM189.5 114.5h0.5v3h-0.5zM190 107.5h0.5v7h-0.5zM190.5 109h0.5v2h-0.5zM191 111h0.5v3h-0.5zM191.5 107.5h0.5v3.5h-0.5zM192 109h0.5v1.5h-0.5zM192.5 107h0.5v3h-0.5zM193 106h0.5v2.5h-0.5zM193.5 107h0.5v2h-0.5zM194 106.5h0.5v4.5h-0.5zM194.5 104h0.5v4.5h-0.5zM195 106h0.5v2.5h-0.5zM195.5 105.5h0.5v1.5h-0.5zM196 104.5h0.5v4h-0.5zM196.5 102h0.5v5h-0.5zM197 100.5h0.5v6.5h-0.5zM197.5 102.5h0.5v5h-0.5zM198 104h0.5v2h-0.5zM198.5 105.5h0.5v2h-0.5zM199 107h0.5v2.5h-0.5zM199.5 108h0.5v4h-0.5zM200 103.5h0.5v8h-0.5zM200.5 110.5h0.5v3h-0.5zM201 108.5h0.5v2.5h-0.5zM201.5 108.5h0.5v4h-0.5zM202 110.5h0.5v2h-0.5zM202.5 111.5h0.5v0.5h-0.5zM203 112h0.5v5h-0.5zM203.5 115h0.5v2.5h-0.5zM204 114.5h0.5v6.5h-0.5zM204.5 118h0.5v2.5h-0.5zM205 120.5h0.5v0.5h-0.5zM205.5 120h0.5v6h-0.5zM206 123.5h0.5v2.5h-0.5zM206.5 124h0.5v1h-0.5zM207 125h0.5v6.5h-0.5zM207.5 131.5h0.5v1h-0.5zM208 130.5h0.5v1h-0.5zM208.5 130h0.5v8h-0.5zM209 136h0.5v1h-0.5zM209.5 136.5h0.5v1.5h-0.5zM210 137h0.5v7.5h-0.5zM210.5 143h0.5v0.5h-0.5zM211 143h0.5v8.5h-0.5zM211.5 150.5h0.5v1.5h-0.5zM212 151h0.5v0.5h-0.5zM212.5 151h0.5v8h-0.5zM213 158h0.5v0.5h-0.5zM213.5 157.5h0.5v1h-0.5zM214 158h0.5v8.5h-0.5zM214.5 166h0.5v1h-0.5zM215 165.5h0.5v1h-0.5zM215.5 166h0.5v9h-0.5zM216 174h0.5v0.5h-0.5zM216.5 174h0.5v9h-0.5zM217 182.5h0.5v0.5h-0.5zM217.5 182.5h0.5v0.5h-0.5zM218 182h0.5v10h-0.5zM218.5 191.5h0.5v0.5h-0.5zM219 191h0.5v0.5h-0.5zM219.5 191h0.5v8.5h-0.5zM220 199h0.5v0.5h-0.5zM220.5 199h0.5v0.5h-0.5zM221 199h0.5v9h-0.5zM221.5 207.5h0.5v0.5h-0.5zM222 207.5h0.5v0.5h-0.5zM222.5 207h0.5v8.5h-0.5zM223 215.5h0.5v0.5h-0.5zM223.5 215.5h0.5v8.5h-0.5zM224 223.5h0.5v0.5h-0.5zM224.5 223h0.5v0.5h-0.5zM225 223.5h0.5v8h-0.5zM225.5 230.5h0.5v0.5h-0.5zM226 230.5h0.5v0.5h-0.5zM226.5 230.5h0.5v8h-0.5zM227 237.5h0.5v1h-0.5zM227.5 238h0.5v1h-0.5zM228 238h0.5v7h-0.5zM228.5 244.5h0.5v1h-0.5zM229 245h0.5v0.5h-0.5zM229.5 245h0.5v6.5h-0.5zM230 251h0.5v2h-0.5zM230.5 251h0.5v7h-0.5zM231 255.5h0.5v2.5h-0.5zM231.5 257h0.5v2h-0.5zM232 257.5h0.5v5.5h-0.5zM232.5 261.5h0.5v1h-0.5zM233 262h0.5v1h-0.5zM233.5 262.5h0.5v4.5h-0.5zM234 265h0.5v4h-0.5zM234.5 266h0.5v1.5h-0.5zM235 266.5h0.5v6h-0.5zM235.5 269h0.5v2.5h-0.5zM236 271.5h0.5v1.5h-0.5zM236.5 271h0.5v4h-0.5zM237 274.5h0.5v2.5h-0.5zM237.5 274h0.5v4h-0.5zM238 275.5h0.5v1.5h-0.5zM238.5 275.5h0.5v3.5h-0.5zM239 276h0.5v3h-0.5zM239.5 278.5h0.5v1.5h-0.5zM240 278h0.5v1h-0.5zM240.5 277h0.5v3.5h-0.5zM241 277.5h0.5v2h-0.5zM241.5 277.5h0.5v1h-0.5zM242 278h0.5v5h-0.5zM242.5 278.5h0.5v3h-0.5zM243 279.5h0.5v1h-0.5zM243.5 276h0.5v4h-0.5zM244 278.5h0.5v2.5h-0.5zM244.5 276.5h0.5v4h-0.5zM245 273.5h0.5v5h-0.5zM245.5 278.5h0.5v3h-0.5zM246 275h0.5v3.5h-0.5zM246.5 276h0.5v1.5h-0.5zM247 275h0.5v1.5h-0.5zM247.5 272.5h0.5v5.5h-0.5zM248 274h0.5v0.5h-0.5zM248.5 269.5h0.5v4.5h-0.5zM249 269h0.5v4h-0.5zM249.5 270h0.5v1h-0.5zM250 264.5h0.5v7h-0.5zM250.5 264h0.5v2h-0.5zM251 265h0.5v0.5h-0.5zM251.5 258h0.5v7h-0.5zM252 257.5h0.5v1.5h-0.5zM252.5 258h0.5v1h-0.5zM253 252.5h0.5v8h-0.5zM253.5 253h0.5v1h-0.5zM254 253.5h0.5v1h-0.5zM254.5 246.5h0.5v8h-0.5zM255 246h0.5v0.5h-0.5zM255.5 246.5h0.5v1h-0.5zM256 241h0.5v6.5h-0.5zM256.5 241.5h0.5v0.5h-0.5zM257 234h0.5v7.5h-0.5zM257.5 234h0.5v0.5h-0.5zM258 234h0.5v1h-0.5zM258.5 226.5h0.5v8h-0.5zM259 226h0.5v0.5h-0.5zM259.5 226h0.5v1h-0.5zM260 219h0.5v8.5h-0.5zM260.5 218.5h0.5v1h-0.5zM261 219h0.5v0.5h-0.5zM261.5 210.5h0.5v9h-0.5zM262 210.5h0.5v1h-0.5zM262.5 210.5h0.5v1h-0.5zM263 202h0.5v9h-0.5zM263.5 202h0.5v1h-0.5zM264 193.5h0.5v9h-0.5zM264.5 194h0.5v0.5h-0.5zM265 194h0.5v0.5h-0.5zM265.5 186h0.5v9h-0.5zM266 185.5h0.5v1h-0.5zM266.5 186h0.5v0.5h-0.5zM267 177.5h0.5v8.5h-0.5zM267.5 177.5h0.5v1h-0.5zM268 178h0.5v0.5h-0.5zM268.5 169h0.5v9.5h-0.5zM269 169h0.5v0.5h-0.5zM269.5 169h0.5v1h-0.5zM270 161h0.5v9h-0.5zM270.5 161h0.5v1h-0.5zM271 153.5h0.5v8.5h-0.5zM271.5 153.5h0.5v0.5h-0.5zM272 154h0.5v0.5h-0.5zM272.5 146.5h0.5v7.5h-0.5zM273 146h0.5v1.5h-0.5zM273.5 146.5h0.5v1h-0.5zM274 139.5h0.5v7.5h-0.5zM274.5 139.5h0.5v0.5h-0.5zM275 140h0.5v0.5h-0.5zM275.5 133h0.5v7.5h-0.5zM276 132h0.5v2.5h-0.5zM276.5 127.5h0.5v6h-0.5zM277 126.5h0.5v3h-0.5zM277.5 127.5h0.5v2.5h-0.5zM278 122h0.5v7h-0.5zM278.5 122.5h0.5v2h-0.5zM279 121h0.5v1.5h-0.5zM279.5 118h0.5v4.5h-0.5zM280 116.5h0.5v2.5h-0.5zM280.5 116.5h0.5v2h-0.5zM281 114h0.5v7h-0.5zM281.5 113h0.5v2.5h-0.5zM282 112.5h0.5v1h-0.5zM282.5 107.5h0.5v7h-0.5zM283 109h0.5v2h-0.5zM283.5 108h0.5v2.5h-0.5zM284 108h0.5v4.5h-0.5zM284.5 104h0.5v4h-0.5zM285 105h0.5v4.5h-0.5zM285.5 102.5h0.5v5.5h-0.5zM286 103.5h0.5v2.5h-0.5zM286.5 104.5h0.5v2.5h-0.5zM287 105.5h0.5v2.5h-0.5zM287.5 105h0.5v2.5h-0.5zM288 102.5h0.5v7.5h-0.5zM288.5 100.5h0.5v8.5h-0.5zM289 103.5h0.5v3h-0.5zM289.5 105.5h0.5v2h-0.5zM290 106.5h0.5v0.5h-0.5zM290.5 104h0.5v4h-0.5zM291 105.5h0.5v4.5h-0.5zM291.5 103.5h0.5v3.5h-0.5zM292 105.5h0.5v5h-0.5zM292.5 107.5h0.5v6h-0.5zM293 106h0.5v1.5h-0.5zM293.5 107.5h0.5v5.5h-0.5zM294 112.5h0.5v2h-0.5zM294.5 112.5h0.5v1h-0.5zM295 112h0.5v8h-0.5zM295.5 115.5h0.5v1h-0.5zM296 115.5h0.5v5.5h-0.5zM296.5 119.5h0.5v2.5h-0.5zM297 121h0.5v2h-0.5zM297.5 118.5h0.5v7h-0.5zM298 125.5h0.5v1.5h-0.5zM298.5 125h0.5v1h-0.5zM299 124.5h0.5v8.5h-0.5zM299.5 132.5h0.5v0.5h-0.5zM300 131.5h0.5v1h-0.5zM300.5 131.5h0.5v6.5h-0.5zM301 138h0.5v1h-0.5zM301.5 137h0.5v1h-0.5zM302 137.5h0.5v7.5h-0.5zM302.5 144h0.5v0.5h-0.5zM303 144h0.5v8h-0.5zM303.5 151h0.5v1.5h-0.5zM304 151.5h0.5v0.5h-0.5zM304.5 151.5h0.5v8.5h-0.5zM305 158.5h0.5v1h-0.5zM305.5 159h0.5v1h-0.5zM306 159h0.5v8h-0.5zM306.5 166.5h0.5v0.5h-0.5zM307 166.5h0.5v0.5h-0.5zM307.5 166.5h0.5v9h-0.5zM308 174.5h0.5v0.5h-0.5zM308.5 174.5h0.5v1h-0.5zM309 174.5h0.5v9.5h-0.5zM309.5 182.5h0.5v1h-0.5zM310 183h0.5v9h-0.5zM310.5 191.5h0.5v0.5h-0.5zM311 191.5h0.5v0.5h-0.5zM311.5 191.5h0.5v8.5h-0.5zM312 199.5h0.5v0.5h-0.5zM312.5 200h0.5v0.5h-0.5zM313 199.5h0.5v9h-0.5zM313.5 207.5h0.5v0.5h-0.5zM314 208h0.5v0.5h-0.5zM314.5 208h0.5v8h-0.5zM315 215.5h0.5v1h-0.5zM315.5 215.5h0.5v8.5h-0.5zM316 223h0.5v0.5h-0.5zM316.5 223.5h0.5v0.5h-0.5zM317 223.5h0.5v7.5h-0.5zM317.5 231h0.5v0.5h-0.5zM318 231h0.5v0.5h-0.5zM318.5 230.5h0.5v8h-0.5zM319 238h0.5v1.5h-0.5zM319.5 238h0.5v1.5h-0.5zM320 238.5h0.5v7h-0.5zM320.5 245h0.5v0.5h-0.5zM321 245h0.5v1.5h-0.5zM321.5 245h0.5v7.5h-0.5zM322 252h0.5v1h-0.5zM322.5 251h0.5v7h-0.5zM323 257h0.5v1h-0.5zM323.5 257.5h0.5v2h-0.5zM324 257.5h0.5v5.5h-0.5zM324.5 262.5h0.5v0.5h-0.5zM325 262h0.5v3h-0.5zM325.5 263h0.5v5.5h-0.5zM326 265.5h0.5v4h-0.5zM326.5 265.5h0.5v5.5h-0.5zM327 268h0.5v4.5h-0.5zM327.5 270.5h0.5v3h-0.5zM328 271h0.5v3.5h-0.5zM328.5 273.5h0.5v2h-0.5zM329 271h0.5v3.5h-0.5zM329.5 272.5h0.5v5.5h-0.5zM330 276h0.5v4h-0.5zM330.5 278.5h0.5v3h-0.5zM331 277.5h0.5v2h-0.5zM331.5 277h0.5v1.5h-0.5zM332 275h0.5v3h-0.5zM332.5 278h0.5v2.5h-0.5zM333 276.5h0.5v4.5h-0.5zM333.5 276h0.5v3h-0.5zM334 275h0.5v7.5h-0.5zM334.5 275h0.5v5h-0.5zM335 277.5h0.5v3h-0.5zM335.5 275.5h0.5v4.5h-0.5zM336 275h0.5v5h-0.5zM336.5 274.5h0.5v5.5h-0.5zM337 277.5h0.5v4.5h-0.5zM337.5 276.5h0.5v4h-0.5zM338 274h0.5v4h-0.5zM338.5 273h0.5v3.5h-0.5zM339 272.5h0.5v3h-0.5zM339.5 271.5h0.5v7.5h-0.5zM340 270.5h0.5v3h-0.5zM340.5 273.5h0.5v0.5h-0.5zM341 266h0.5v7.5h-0.5zM341.5 268.5h0.5v1h-0.5zM342 264.5h0.5v4.5h-0.5zM342.5 263h0.5v2h-0.5zM343 264h0.5v1.5h-0.5zM343.5 259h0.5v5h-0.5zM344 257.5h0.5v4h-0.5zM344.5 260h0.5v1h-0.5zM345 252.5h0.5v8.5h-0.5zM345.5 253h0.5v1.5h-0.5zM346 252.5h0.5v1h-0.5zM346.5 246.5h0.5v7h-0.5zM347 246.5h0.5v0.5h-0.5zM347.5 240.5h0.5v7h-0.5zM348 240.5h0.5v1.5h-0.5zM348.5 239.5h0.5v1h-0.5zM349 233.5h0.5v7.5h-0.5zM349.5 233.5h0.5v0.5h-0.5zM350 234h0.5v0.5h-0.5zM350.5 226h0.5v8h-0.5zM351 226h0.5v0.5h-0.5zM351.5 226h0.5v0.5h-0.5zM352 218h0.5v8.5h-0.5zM352.5 218h0.5v0.5h-0.5zM353 218h0.5v1h-0.5zM353.5 209h0.5v9.5h-0.5zM354 209.5h0.5v0.5h-0.5zM354.5 201.5h0.5v8.5h-0.5zM355 201.5h0.5v1h-0.5zM355.5 202h0.5v0.5h-0.5zM356 193.5h0.5v9h-0.5zM356.5 193h0.5v1h-0.5zM357 193.5h0.5v1h-0.5zM357.5 185.5h0.5v8.5h-0.5zM358 185.5h0.5v0.5h-0.5zM358.5 185.5h0.5v0.5h-0.5zM359 177h0.5v9h-0.5zM359.5 177h0.5v0.5h-0.5zM360 177h0.5v1h-0.5zM360.5 168.5h0.5v9.5h-0.5zM361 168h0.5v0.5h-0.5zM361.5 161.5h0.5v7.5h-0.5zM362 161h0.5v0.5h-0.5zM362.5 161h0.5v1h-0.5zM363 153h0.5v9h-0.5zM363.5 153h0.5v0.5h-0.5zM364 153h0.5v1h-0.5zM364.5 145.5h0.5v8.5h-0.5zM365 146h0.5v0.5h-0.5zM365.5 146.5h0.5v1h-0.5zM366 139.5h0.5v7h-0.5zM366.5 139h0.5v0.5h-0.5zM367 133h0.5v7h-0.5zM367.5 133.5h0.5v0.5h-0.5zM368 132.5h0.5v1.5h-0.5zM368.5 127h0.5v6.5h-0.5zM369 126.5h0.5v1h-0.5zM369.5 127h0.5v1.5h-0.5zM370 122h0.5v6.5h-0.5zM370.5 121.5h0.5v1h-0.5zM371 120.5h0.5v3h-0.5zM371.5 116.5h0.5v6.5h-0.5zM372 117h0.5v1h-0.5zM372.5 118h0.5v1h-0.5zM373 113.5h0.5v4.5h-0.5zM373.5 113h0.5v1h-0.5zM374 109.5h0.5v4.5h-0.5zM374.5 109.5h0.5v1h-0.5zM375 107h0.5v5h-0.5zM375.5 107h0.5v4h-0.5zM376 106.5h0.5v1h-0.5zM376.5 107.5h0.5v1.5h-0.5zM377 106h0.5v3h-0.5zM377.5 104h0.5v2.5h-0.5zM378 104.5h0.5v2.5h-0.5zM378.5 102.5h0.5v4.5h-0.5zM379 101.5h0.5v4.5h-0.5zM379.5 106h0.5v3h-0.5zM380 105h0.5v2h-0.5zM380.5 104h0.5v2h-0.5zM381 104h0.5v2.5h-0.5zM381.5 105h0.5v1.5h-0.5zM382 104h0.5v3h-0.5zM382.5 103h0.5v5h-0.5zM383 107h0.5v1.5h-0.5zM383.5 108h0.5v2.5h-0.5zM384 107.5h0.5v4h-0.5zM384.5 108.5h0.5v4h-0.5zM385 110h0.5v2h-0.5zM385.5 110h0.5v6h-0.5zM386 110.5h0.5v4.5h-0.5zM386.5 112.5h0.5v4.5h-0.5zM387 115h0.5v3h-0.5zM387.5 115h0.5v1h-0.5zM388 115.5h0.5v6h-0.5zM388.5 120h0.5v1h-0.5zM389 120.5h0.5v2h-0.5zM389.5 120.5h0.5v7h-0.5zM390 125h0.5v1.5h-0.5zM390.5 125.5h0.5v2h-0.5zM391 126h0.5v6.5h-0.5zM391.5 132.5h0.5v1h-0.5zM392 132h0.5v1h-0.5zM392.5 132h0.5v7.5h-0.5zM393 138.5h0.5v0.5h-0.5zM393.5 137.5h0.5v7.5h-0.5zM394 145h0.5v1h-0.5zM394.5 144.5h0.5v0.5h-0.5zM395 144.5h0.5v7.5h-0.5zM395.5 151h0.5v0.5h-0.5zM396 151.5h0.5v0.5h-0.5zM396.5 151h0.5v9h-0.5zM397 159h0.5v1h-0.5zM397.5 159h0.5v0.5h-0.5zM398 159.5h0.5v8.5h-0.5zM398.5 167.5h0.5v0.5h-0.5zM399 167.5h0.5v0.5h-0.5zM399.5 167.5h0.5v7.5h-0.5zM400 174.5h0.5v1h-0.5zM400.5 174.5h0.5v10h-0.5zM401 183.5h0.5v0.5h-0.5zM401.5 183.5h0.5v0.5h-0.5zM402 183.5h0.5v8.5h-0.5zM402.5 191.5h0.5v0.5h-0.5zM403 191.5h0.5v0.5h-0.5zM403.5 191.5h0.5v9h-0.5zM404 199.5h0.5v1h-0.5zM404.5 200h0.5v0.5h-0.5zM405 200h0.5v9h-0.5zM405.5 208h0.5v0.5h-0.5zM406 208h0.5v9.5h-0.5zM406.5 216h0.5v1h-0.5zM407 216h0.5v0.5h-0.5zM407.5 216h0.5v8.5h-0.5zM408 224h0.5v1h-0.5zM408.5 224h0.5v0.5h-0.5zM409 224h0.5v8.5h-0.5zM409.5 232h0.5v0.5h-0.5zM410 232h0.5v0.5h-0.5zM410.5 232h0.5v7h-0.5zM411 238.5h0.5v0.5h-0.5zM411.5 238h0.5v1h-0.5zM412 238.5h0.5v9h-0.5zM412.5 246h0.5v0.5h-0.5zM413 245.5h0.5v7h-0.5zM413.5 252.5h0.5v0.5h-0.5zM414 252h0.5v0.5h-0.5zM414.5 252.5h0.5v6h-0.5zM415 257.5h0.5v1.5h-0.5zM415.5 258.5h0.5v0.5h-0.5zM416 257.5h0.5v6.5h-0.5zM416.5 263h0.5v0.5h-0.5zM417 263h0.5v1h-0.5zM417.5 263h0.5v6h-0.5zM418 268.5h0.5v0.5h-0.5zM418.5 265.5h0.5v4.5h-0.5zM419 267h0.5v7h-0.5zM419.5 271.5h0.5v2h-0.5zM420 270h0.5v5.5h-0.5zM420.5 272h0.5v1.5h-0.5zM421 273h0.5v1.5h-0.5zM421.5 272h0.5v6.5h-0.5zM422 276.5h0.5v1h-0.5zM422.5 277h0.5v3h-0.5zM423 277h0.5v3.5h-0.5zM423.5 280.5h0.5v2.5h-0.5zM424 277.5h0.5v4.5h-0.5zM424.5 278h0.5v4h-0.5zM425 278h0.5v2h-0.5zM425.5 279.5h0.5v2.5h-0.5zM426 279.5h0.5v1.5h-0.5zM426.5 281h0.5v2h-0.5zM427 275.5h0.5v6.5h-0.5zM427.5 278.5h0.5v3.5h-0.5zM428 274.5h0.5v4h-0.5zM428.5 275.5h0.5v4h-0.5zM429 273.5h0.5v2.5h-0.5zM429.5 275h0.5v4h-0.5zM430 274.5h0.5v3.5h-0.5zM430.5 276.5h0.5v1.5h-0.5zM431 272h0.5v5h-0.5zM431.5 271.5h0.5v4h-0.5zM432 270.5h0.5v1.5h-0.5zM432.5 267h0.5v5h-0.5zM433 268h0.5v1.5h-0.5zM433.5 267.5h0.5v1.5h-0.5zM434 263h0.5v5.5h-0.5zM434.5 262.5h0.5v1h-0.5zM435 263.5h0.5v2.5h-0.5zM435.5 258h0.5v7h-0.5zM436 257h0.5v2.5h-0.5zM436.5 257h0.5v1h-0.5zM437 251.5h0.5v7.5h-0.5zM437.5 252h0.5v1.5h-0.5zM438 247h0.5v7h-0.5zM438.5 246.5h0.5v0.5h-0.5zM439 246.5h0.5v1.5h-0.5zM439.5 240h0.5v7.5h-0.5zM440 240h0.5v1h-0.5zM440.5 239.5h0.5v1h-0.5zM441 233h0.5v7.5h-0.5zM441.5 232.5h0.5v1h-0.5zM442 233h0.5v1h-0.5zM442.5 225h0.5v8.5h-0.5zM443 225h0.5v0.5h-0.5zM443.5 224.5h0.5v1h-0.5zM444 217h0.5v9h-0.5zM444.5 217h0.5v1h-0.5zM445 209h0.5v9.5h-0.5zM445.5 209h0.5v0.5h-0.5zM446 208.5h0.5v1.5h-0.5zM446.5 201h0.5v9h-0.5zM447 201h0.5v0.5h-0.5zM447.5 200.5h0.5v1.5h-0.5zM448 193h0.5v8.5h-0.5zM448.5 193h0.5v0.5h-0.5zM449 193h0.5v1h-0.5zM449.5 184h0.5v10h-0.5zM450 184.5h0.5v0.5h-0.5zM450.5 184h0.5v0.5h-0.5zM451 176h0.5v8.5h-0.5zM451.5 176h0.5v0.5h-0.5zM452 168h0.5v9h-0.5zM452.5 167.5h0.5v0.5h-0.5zM453 168h0.5v0.5h-0.5zM453.5 160.5h0.5v8h-0.5zM454 160.5h0.5v0.5h-0.5zM454.5 161h0.5v0.5h-0.5zM455 152.5h0.5v9h-0.5zM455.5 153h0.5v0.5h-0.5zM456 153h0.5v1h-0.5zM456.5 145.5h0.5v8.5h-0.5zM457 145h0.5v0.5h-0.5zM457.5 145h0.5v1h-0.5zM458 138.5h0.5v7.5h-0.5zM458.5 139h0.5v1h-0.5zM459 139.5h0.5v1h-0.5zM459.5 132.5h0.5v7.5h-0.5zM460 132.5h0.5v2h-0.5zM460.5 126.5h0.5v7.5h-0.5zM461 126.5h0.5v1.5h-0.5zM461.5 125.5h0.5v3h-0.5zM462 120.5h0.5v7h-0.5zM462.5 121.5h0.5v1.5h-0.5zM463 122h0.5v1.5h-0.5zM463.5 117h0.5v5h-0.5zM464 118h0.5v1h-0.5zM464.5 117h0.5v1h-0.5zM465 113h0.5v4.5h-0.5zM465.5 114h0.5v2h-0.5zM466 111.5h0.5v4.5h-0.5zM466.5 110h0.5v5h-0.5zM467 111.5h0.5v1.5h-0.5zM467.5 110.5h0.5v1.5h-0.5zM468 106h0.5v4.5h-0.5zM468.5 104h0.5v4h-0.5zM469 105h0.5v6h-0.5zM469.5 106.5h0.5v1.5h-0.5zM470 105h0.5v2.5h-0.5zM470.5 105h0.5v3.5h-0.5zM471 105h0.5v3.5h-0.5zM471.5 102.5h0.5v7.5h-0.5zM472 104h0.5v2.5h-0.5zM472.5 102.5h0.5v4h-0.5zM473 102.5h0.5v3h-0.5zM473.5 104h0.5v3h-0.5zM474 107h0.5v2h-0.5zM474.5 106h0.5v1.5h-0.5zM475 106.5h0.5v3h-0.5zM475.5 107.5h0.5v4h-0.5zM476 109h0.5v1.5h-0.5zM476.5 107.5h0.5v4h-0.5zM477 108h0.5v2h-0.5zM477.5 108.5h0.5v5.5h-0.5zM478 112.5h0.5v1.5h-0.5zM478.5 113.5h0.5v1h-0.5zM479 113.5h0.5v3.5h-0.5zM479.5 117h0.5v1h-0.5zM480 115h0.5v2.5h-0.5zM480.5 115.5h0.5v6.5h-0.5zM481 120.5h0.5v1.5h-0.5zM481.5 121h0.5v1h-0.5zM482 121h0.5v7.5h-0.5zM482.5 126.5h0.5v2h-0.5zM483 127h0.5v1h-0.5zM483.5 126h0.5v8h-0.5zM484 131.5h0.5v1.5h-0.5zM484.5 131h0.5v1h-0.5zM485 132h0.5v7.5h-0.5zM485.5 138h0.5v1h-0.5zM486 138h0.5v8h-0.5zM486.5 145h0.5v1h-0.5zM487 145h0.5v0.5h-0.5zM487.5 145h0.5v8.5h-0.5zM488 153h0.5v1h-0.5zM488.5 153h0.5v0.5h-0.5zM489 152.5h0.5v8h-0.5zM489.5 160h0.5v0.5h-0.5zM490 160h0.5v1h-0.5zM490.5 160h0.5v8.5h-0.5zM491 167.5h0.5v0.5h-0.5zM491.5 167.5h0.5v1h-0.5zM492 167.5h0.5v9h-0.5zM492.5 175.5h0.5v0.5h-0.5zM493 175h0.5v1h-0.5zM493.5 175.5h0.5v9h-0.5zM494 184h0.5v0.5h-0.5zM494.5 183.5h0.5v9.5h-0.5zM495 192h0.5v1h-0.5zM495.5 192h0.5v0.5h-0.5zM496 192h0.5v9h-0.5zM496.5 200.5h0.5v0.5h-0.5zM497 200.5h0.5v0.5h-0.5zM497.5 200.5h0.5v9h-0.5zM498 209h0.5v0.5h-0.5zM498.5 208.5h0.5v0.5h-0.5zM499 208.5h0.5v9.5h-0.5zM499.5 217h0.5v1h-0.5zM500 217.5h0.5v0.5h-0.5zM500.5 217.5h0.5v8.5h-0.5zM501 224.5h0.5v0.5h-0.5zM501.5 224.5h0.5v1h-0.5zM502 224.5h0.5v8h-0.5zM502.5 231.5h0.5v0.5h-0.5zM503 231.5h0.5v8h-0.5zM503.5 239.5h0.5v0.5h-0.5zM504 240h0.5v0.5h-0.5zM504.5 239.5h0.5v7h-0.5zM505 245h0.5v0.5h-0.5zM505.5 245.5h0.5v1h-0.5zM506 245.5h0.5v8h-0.5zM506.5 251.5h0.5v1.5h-0.5zM507 251.5h0.5v1.5h-0.5zM507.5 252.5h0.5v6.5h-0.5zM508 257h0.5v1.5h-0.5zM508.5 257h0.5v1h-0.5zM509 257.5h0.5v6.5h-0.5zM509.5 263h0.5v1.5h-0.5zM510 264h0.5v1h-0.5zM510.5 263h0.5v5.5h-0.5zM511 267h0.5v2h-0.5zM511.5 266h0.5v6h-0.5zM512 271.5h0.5v3h-0.5zM512.5 273h0.5v1h-0.5zM513 271.5h0.5v4h-0.5zM513.5 273h0.5v1.5h-0.5zM514 271.5h0.5v3.5h-0.5zM514.5 274.5h0.5v6h-0.5zM515 278.5h0.5v1.5h-0.5zM515.5 277h0.5v1.5h-0.5zM516 276.5h0.5v3.5h-0.5zM516.5 275h0.5v9h-0.5zM517 279.5h0.5v4h-0.5zM517.5 279.5h0.5v0.5h-0.5zM518 280h0.5v2h-0.5zM518.5 279.5h0.5v1.5h-0.5zM519 279.5h0.5v3.5h-0.5zM519.5 280.5h0.5v2.5h-0.5zM520 279h0.5v3h-0.5zM520.5 278h0.5v4h-0.5zM521 279h0.5v1.5h-0.5zM521.5 277h0.5v3.5h-0.5zM522 276h0.5v4.5h-0.5zM522.5 276.5h0.5v2h-0.5zM523 273h0.5v4.5h-0.5zM523.5 271.5h0.5v2h-0.5zM524 271.5h0.5v2h-0.5zM524.5 271h0.5v4.5h-0.5zM525 271.5h0.5v0.5h-0.5zM525.5 270h0.5v2h-0.5zM526 268.5h0.5v3.5h-0.5zM526.5 268h0.5v2h-0.5zM527 266h0.5v2h-0.5zM527.5 263h0.5v5.5h-0.5zM528 261.5h0.5v1.5h-0.5zM528.5 257h0.5v7h-0.5zM529 258h0.5v1h-0.5zM529.5 257.5h0.5v1.5h-0.5zM530 252.5h0.5v6.5h-0.5zM530.5 251.5h0.5v1.5h-0.5zM531 252h0.5v0.5h-0.5zM531.5 246.5h0.5v6.5h-0.5zM532 246.5h0.5v1h-0.5zM532.5 246h0.5v0.5h-0.5zM533 239.5h0.5v7.5h-0.5zM533.5 239h0.5v1h-0.5zM534 239.5h0.5v0.5h-0.5zM534.5 233h0.5v6.5h-0.5zM535 233h0.5v0.5h-0.5zM535.5 232.5h0.5v1.5h-0.5zM536 224.5h0.5v9.5h-0.5zM536.5 224h0.5v0.5h-0.5zM537 217.5h0.5v7.5h-0.5zM537.5 217h0.5v0.5h-0.5zM538 217h0.5v0.5h-0.5zM538.5 208.5h0.5v9.5h-0.5zM539 208.5h0.5v0.5h-0.5zM539.5 208h0.5v1.5h-0.5zM540 200h0.5v9h-0.5zM540.5 200h0.5v1h-0.5zM541 200.5h0.5v0.5h-0.5zM541.5 192.5h0.5v8.5h-0.5zM542 192.5h0.5v0.5h-0.5zM542.5 192h0.5v1.5h-0.5zM543 183.5h0.5v9.5h-0.5zM543.5 183.5h0.5v1h-0.5zM544 184h0.5v0.5h-0.5zM544.5 175.5h0.5v9h-0.5zM545 175.5h0.5v1h-0.5zM545.5 168h0.5v8.5h-0.5zM546 167.5h0.5v0.5h-0.5zM546.5 167.5h0.5v0.5h-0.5zM547 160h0.5v9h-0.5zM547.5 160h0.5v1h-0.5zM548 160h0.5v0.5h-0.5zM548.5 152h0.5v8.5h-0.5zM549 152.5h0.5v0.5h-0.5zM549.5 152h0.5v0.5h-0.5zM550 145.5h0.5v7.5h-0.5zM550.5 145.5h0.5v1h-0.5zM551 138.5h0.5v7.5h-0.5zM551.5 139h0.5v1h-0.5zM552 138.5h0.5v1h-0.5zM552.5 132h0.5v7.5h-0.5zM553 131.5h0.5v1.5h-0.5zM553.5 131h0.5v1h-0.5zM554 126h0.5v6.5h-0.5zM554.5 125.5h0.5v2h-0.5zM555 126.5h0.5v1.5h-0.5zM555.5 121.5h0.5v7.5h-0.5zM556 120.5h0.5v2h-0.5zM556.5 121.5h0.5v1h-0.5zM557 117h0.5v5h-0.5zM557.5 116h0.5v2h-0.5zM558 112.5h0.5v6.5h-0.5zM558.5 112h0.5v2.5h-0.5zM559 114h0.5v1h-0.5zM559.5 109.5h0.5v7h-0.5zM560 107h0.5v6h-0.5zM560.5 107.5h0.5v1.5h-0.5zM561 106h0.5v5h-0.5zM561.5 109h0.5v3h-0.5zM562 107h0.5v3h-0.5zM562.5 106h0.5v3.5h-0.5zM563 104.5h0.5v2.5h-0.5zM563.5 104h0.5v2h-0.5zM564 104.5h0.5v4.5h-0.5zM564.5 102.5h0.5v2h-0.5zM565 103.5h0.5v5h-0.5zM565.5 105h0.5v1.5h-0.5zM566 105.5h0.5v0.5h-0.5zM566.5 104.5h0.5v5h-0.5zM567 102h0.5v4h-0.5zM567.5 104.5h0.5v4h-0.5zM568 104h0.5v4.5h-0.5zM568.5 106.5h0.5v2h-0.5zM569 108h0.5v2.5h-0.5zM569.5 106.5h0.5v4.5h-0.5zM570 107.5h0.5v2h-0.5zM570.5 106.5h0.5v3.5h-0.5zM571 108.5h0.5v6.5h-0.5zM571.5 113h0.5v1.5h-0.5zM572 111h0.5v7.5h-0.5zM572.5 117.5h0.5v0.5h-0.5zM573 117h0.5v1h-0.5zM573.5 117.5h0.5v5.5h-0.5zM574 120h0.5v1.5h-0.5zM574.5 121h0.5v2.5h-0.5zM575 121.5h0.5v7h-0.5zM575.5 127h0.5v1h-0.5zM576 126h0.5v2h-0.5zM576.5 126.5h0.5v7h-0.5zM577 131h0.5v2h-0.5zM577.5 132h0.5v7h-0.5zM578 139h0.5v0.5h-0.5zM578.5 139h0.5v0.5h-0.5zM579 139h0.5v7h-0.5zM579.5 146h0.5v0.5h-0.5zM580 145.5h0.5v1h-0.5zM580.5 145h0.5v8h-0.5zM581 152h0.5v1.5h-0.5zM581.5 152h0.5v1h-0.5zM582 152h0.5v10h-0.5zM582.5 161h0.5v1h-0.5zM583 161.5h0.5v0.5h-0.5zM583.5 161.5h0.5v7h-0.5zM584 168h0.5v1h-0.5zM584.5 168h0.5v9h-0.5zM585 176.5h0.5v0.5h-0.5zM585.5 176h0.5v1h-0.5zM586 176.5h0.5v8.5h-0.5zM586.5 185h0.5v0.5h-0.5zM587 185h0.5v1h-0.5zM587.5 185h0.5v9h-0.5zM588 193.5h0.5v0.5h-0.5zM588.5 193.5h0.5v1h-0.5zM589 193.5h0.5v8h-0.5zM589.5 201h0.5v1h-0.5zM590 201.5h0.5v0.5h-0.5zM590.5 201.5h0.5v9h-0.5zM591 209.5h0.5v0.5h-0.5zM591.5 209.5h0.5v8.5h-0.5zM592 217h0.5v1h-0.5zM592.5 217h0.5v1h-0.5zM593 217h0.5v9h-0.5zM593.5 225h0.5v1h-0.5zM594 225h0.5v1h-0.5zM594.5 225.5h0.5v8h-0.5zM595 232.5h0.5v0.5h-0.5zM595.5 232.5h0.5v0.5h-0.5zM596 232h0.5v8.5h-0.5zM596.5 240h0.5v1h-0.5zM597 240h0.5v7.5h-0.5zM597.5 246h0.5v1.5h-0.5zM598 245.5h0.5v2h-0.5zM598.5 246.5h0.5v7h-0.5zM599 252.5h0.5v1h-0.5zM599.5 253h0.5v0.5h-0.5zM600 252.5h0.5v7.5h-0.5zM600.5 257.5h0.5v3h-0.5zM601 258.5h0.5v1h-0.5zM601.5 258.5h0.5v5.5h-0.5zM602 264h0.5v2.5h-0.5zM602.5 263h0.5v2h-0.5zM603 263.5h0.5v6h-0.5zM603.5 267h0.5v1.5h-0.5zM604 266h0.5v6.5h-0.5zM604.5 272.5h0.5v2.5h-0.5zM605 271.5h0.5v2.5h-0.5zM605.5 270h0.5v8h-0.5zM606 274.5h0.5v2h-0.5zM606.5 274h0.5v1.5h-0.5zM607 272.5h0.5v5h-0.5zM607.5 275.5h0.5v4h-0.5zM608 277.5h0.5v1h-0.5zM608.5 277h0.5v3h-0.5zM609 274.5h0.5v4.5h-0.5zM609.5 277h0.5v6.5h-0.5zM610 278h0.5v6h-0.5zM610.5 278.5h0.5v3h-0.5zM611 278h0.5v4h-0.5zM611.5 280h0.5v3.5h-0.5zM612 278.5h0.5v1.5h-0.5zM612.5 277h0.5v3.5h-0.5zM613 277.5h0.5v5.5h-0.5zM613.5 277h0.5v0.5h-0.5zM614 276.5h0.5v5h-0.5zM614.5 280h0.5v1h-0.5zM615 277.5h0.5v2.5h-0.5zM615.5 272h0.5v5.5h-0.5zM616 275h0.5v3.5h-0.5zM616.5 270.5h0.5v6h-0.5zM617 269.5h0.5v4h-0.5zM617.5 270h0.5v2h-0.5zM618 268h0.5v5h-0.5zM618.5 267.5h0.5v1h-0.5zM619 267.5h0.5v1.5h-0.5zM619.5 263.5h0.5v5h-0.5zM620 264.5h0.5v1.5h-0.5zM620.5 262.5h0.5v2h-0.5zM621 257.5h0.5v6.5h-0.5zM621.5 257.5h0.5v0.5h-0.5zM622 257h0.5v1.5h-0.5zM622.5 251.5h0.5v7h-0.5zM623 252h0.5v1h-0.5zM623.5 246h0.5v7h-0.5zM624 246.5h0.5v1h-0.5zM624.5 245h0.5v1.5h-0.5zM625 239.5h0.5v7.5h-0.5zM625.5 240h0.5v0.5h-0.5zM626 239h0.5v1h-0.5zM626.5 231.5h0.5v9h-0.5zM627 231.5h0.5v0.5h-0.5zM627.5 231.5h0.5v0.5h-0.5zM628 224h0.5v8h-0.5zM628.5 224h0.5v0.5h-0.5zM629 223.5h0.5v1h-0.5zM629.5 216h0.5v8h-0.5zM630 215.5h0.5v1h-0.5zM630.5 208.5h0.5v8h-0.5zM631 208.5h0.5v0.5h-0.5zM631.5 208.5h0.5v0.5h-0.5zM632 200h0.5v9h-0.5zM632.5 200h0.5v0.5h-0.5zM633 200h0.5v0.5h-0.5zM633.5 191h0.5v9.5h-0.5zM634 191h0.5v1h-0.5zM634.5 191.5h0.5v0.5h-0.5zM635 183h0.5v9h-0.5zM635.5 183.5h0.5v0.5h-0.5zM636 175h0.5v9h-0.5zM636.5 174.5h0.5v0.5h-0.5zM637 175h0.5v0.5h-0.5zM637.5 167h0.5v9h-0.5zM638 167h0.5v0.5h-0.5zM638.5 167h0.5v1h-0.5zM639 159h0.5v9h-0.5zM639.5 159h0.5v1h-0.5zM640 158.5h0.5v1.5h-0.5zM640.5 151.5h0.5v8.5h-0.5zM641 151.5h0.5v1h-0.5zM641.5 151.5h0.5v1h-0.5zM642 143.5h0.5v9h-0.5zM642.5 144h0.5v1.5h-0.5zM643 137.5h0.5v7.5h-0.5zM643.5 137h0.5v0.5h-0.5zM644 137.5h0.5v1h-0.5zM644.5 131.5h0.5v7h-0.5zM645 131.5h0.5v1h-0.5zM645.5 130.5h0.5v2.5h-0.5zM646 125.5h0.5v6.5h-0.5zM646.5 126h0.5v1h-0.5zM647 125h0.5v2h-0.5zM647.5 121h0.5v6h-0.5zM648 119.5h0.5v2h-0.5zM648.5 116h0.5v5.5h-0.5zM649 115h0.5v1.5h-0.5zM649.5 114.5h0.5v5.5h-0.5zM650 113h0.5v5h-0.5zM650.5 113h0.5v3h-0.5zM651 110.5h0.5v3h-0.5zM651.5 109.5h0.5v3.5h-0.5zM652 109h0.5v1h-0.5zM652.5 107.5h0.5v2.5h-0.5zM653 107h0.5v3.5h-0.5zM653.5 106.5h0.5v2h-0.5zM654 108.5h0.5v1h-0.5zM654.5 105h0.5v4h-0.5zM655 103.5h0.5v1.5h-0.5zM655.5 102.5h0.5v4.5h-0.5zM656 103.5h0.5v2.5h-0.5zM656.5 101.5h0.5v7.5h-0.5zM657 104h0.5v2.5h-0.5zM657.5 105h0.5v2.5h-0.5zM658 105.5h0.5v5h-0.5zM658.5 104.5h0.5v2.5h-0.5zM659 106h0.5v3.5h-0.5zM659.5 104h0.5v3h-0.5zM660 105h0.5v5h-0.5zM660.5 108h0.5v3h-0.5zM661 107.5h0.5v3.5h-0.5zM661.5 108.5h0.5v3h-0.5zM662 109h0.5v3h-0.5zM662.5 109h0.5v5.5h-0.5zM663 112h0.5v1.5h-0.5zM663.5 112.5h0.5v2h-0.5zM664 113.5h0.5v6.5h-0.5zM664.5 117h0.5v2.5h-0.5zM665 116.5h0.5v2.5h-0.5zM665.5 117h0.5v7.5h-0.5zM666 121h0.5v2h-0.5zM666.5 121.5h0.5v1h-0.5zM667 122h0.5v6h-0.5zM667.5 126h0.5v2h-0.5zM668 127h0.5v7h-0.5zM668.5 133.5h0.5v0.5h-0.5zM669 133h0.5v1h-0.5zM669.5 133h0.5v7.5h-0.5zM670 139.5h0.5v1.5h-0.5zM670.5 138.5h0.5v2h-0.5zM671 139h0.5v8h-0.5zM671.5 146h0.5v0.5h-0.5zM672 146h0.5v0.5h-0.5zM672.5 146.5h0.5v8h-0.5zM673 153.5h0.5v1h-0.5zM673.5 153.5h0.5v8h-0.5zM674 161.5h0.5v0.5h-0.5zM674.5 161h0.5v1h-0.5zM675 161h0.5v8h-0.5zM675.5 168.5h0.5v0.5h-0.5zM676 168.5h0.5v0.5h-0.5zM676.5 168.5h0.5v9.5h-0.5zM677 177h0.5v0.5h-0.5zM677.5 177.5h0.5v0.5h-0.5zM678 177.5h0.5v8h-0.5zM678.5 185h0.5v0.5h-0.5zM679 185.5h0.5v0.5h-0.5zM679.5 185.5h0.5v8.5h-0.5zM680 193.5h0.5v0.5h-0.5zM680.5 193h0.5v9.5h-0.5zM681 202h0.5v1h-0.5zM681.5 202h0.5v0.5h-0.5zM682 202.5h0.5v8h-0.5zM682.5 209.5h0.5v1h-0.5zM683 209.5h0.5v0.5h-0.5zM683.5 209.5h0.5v9.5h-0.5zM684 218h0.5v1h-0.5zM684.5 218.5h0.5v0.5h-0.5zM685 218h0.5v8.5h-0.5zM685.5 225.5h0.5v1h-0.5zM686 225.5h0.5v8h-0.5zM686.5 232.5h0.5v1.5h-0.5zM687 233h0.5v0.5h-0.5zM687.5 233h0.5v8h-0.5zM688 240.5h0.5v1.5h-0.5zM688.5 241h0.5v1h-0.5zM689 240.5h0.5v7.5h-0.5zM689.5 246.5h0.5v1.5h-0.5zM690 247h0.5v1h-0.5zM690.5 247.5h0.5v7h-0.5zM691 253.5h0.5v2h-0.5zM691.5 254.5h0.5v0.5h-0.5zM692 253.5h0.5v6.5h-0.5zM692.5 257.5h0.5v2.5h-0.5zM693 258.5h0.5v6.5h-0.5zM693.5 263.5h0.5v2.5h-0.5zM694 265h0.5v1.5h-0.5zM694.5 264h0.5v6h-0.5zM695 268h0.5v1.5h-0.5zM695.5 268h0.5v2h-0.5zM696 266h0.5v6.5h-0.5zM696.5 269h0.5v3.5h-0.5zM697 272.5h0.5v3.5h-0.5zM697.5 272h0.5v4.5h-0.5zM698 275h0.5v4.5h-0.5zM698.5 275.5h0.5v2.5h-0.5zM699 276h0.5v1.5h-0.5zM699.5 275.5h0.5v0.5h-0.5zM700 276h0.5v4h-0.5zM700.5 280h0.5v1h-0.5zM701 279.5h0.5v1h-0.5zM701.5 278h0.5v2.5h-0.5zM702 279h0.5v2.5h-0.5zM702.5 279.5h0.5v2.5h-0.5zM703 277h0.5v6h-0.5zM703.5 280h0.5v3h-0.5zM704 278.5h0.5v2.5h-0.5zM704.5 279h0.5v4.5h-0.5zM705 278.5h0.5v3.5h-0.5zM705.5 276.5h0.5v5h-0.5zM706 276h0.5v4h-0.5zM706.5 274.5h0.5v3h-0.5zM707 274h0.5v6h-0.5zM707.5 274.5h0.5v1h-0.5zM708 274h0.5v1.5h-0.5zM708.5 271h0.5v6h-0.5zM709 271h0.5v1h-0.5zM709.5 271h0.5v0.5h-0.5zM710 267h0.5v4.5h-0.5zM710.5 266.5h0.5v1.5h-0.5zM711 262.5h0.5v5.5h-0.5zM711.5 261h0.5v1.5h-0.5zM712 262.5h0.5v1.5h-0.5zM712.5 257h0.5v7h-0.5zM713 256.5h0.5v1.5h-0.5zM713.5 257h0.5v0.5h-0.5zM714 251h0.5v6.5h-0.5zM714.5 251h0.5v1.5h-0.5zM715 251.5h0.5v0.5h-0.5zM715.5 245h0.5v7h-0.5zM716 246h0.5v1h-0.5zM716.5 245.5h0.5v1h-0.5zM717 237.5h0.5v8.5h-0.5zM717.5 238h0.5v0.5h-0.5zM718 231.5h0.5v8h-0.5zM718.5 230.5h0.5v1.5h-0.5zM719 231h0.5v0.5h-0.5zM719.5 223.5h0.5v8h-0.5zM720 223.5h0.5v0.5h-0.5zM720.5 223h0.5v0.5h-0.5zM721 215.5h0.5v8.5h-0.5zM721.5 216h0.5v0.5h-0.5zM722 215.5h0.5v0.5h-0.5zM722.5 207.5h0.5v9h-0.5zM723 208h0.5v0.5h-0.5zM723.5 199h0.5v9.5h-0.5zM724 199.5h0.5v0.5h-0.5zM724.5 199.5h0.5v0.5h-0.5zM725 191h0.5v9h-0.5zM725.5 191h0.5v1h-0.5zM726 191h0.5v0.5h-0.5zM726.5 182.5h0.5v9.5h-0.5zM727 183h0.5v0.5h-0.5zM727.5 183h0.5v0.5h-0.5zM728 174.5h0.5v9h-0.5zM728.5 174.5h0.5v0.5h-0.5zM729 174.5h0.5v0.5h-0.5zM729.5 166.5h0.5v8.5h-0.5zM730 167h0.5v0.5h-0.5zM730.5 158.5h0.5v9h-0.5zM731 158.5h0.5v0.5h-0.5zM731.5 158.5h0.5v0.5h-0.5zM732 151h0.5v8.5h-0.5zM732.5 151h0.5v0.5h-0.5zM733 150.5h0.5v1.5h-0.5zM733.5 144h0.5v8h-0.5zM734 144h0.5v0.5h-0.5zM734.5 144h0.5v1h-0.5zM735 136.5h0.5v8h-0.5zM735.5 137h0.5v1h-0.5zM736 132h0.5v6h-0.5zM736.5 131h0.5v1h-0.5zM737 130.5h0.5v2h-0.5zM737.5 125h0.5v7.5h-0.5zM738 125.5h0.5v1h-0.5zM738.5 125h0.5v1h-0.5zM739 120.5h0.5v5.5h-0.5zM739.5 120.5h0.5v0.5h-0.5zM740 120.5h0.5v1h-0.5zM740.5 114.5h0.5v6.5h-0.5zM741 116h0.5v2h-0.5zM741.5 114h0.5v2.5h-0.5zM742 112.5h0.5v3.5h-0.5zM742.5 109h0.5v4h-0.5zM743 108.5h0.5v5.5h-0.5zM743.5 108h0.5v2h-0.5zM744 106h0.5v8h-0.5zM744.5 106.5h0.5v4.5h-0.5zM745 106h0.5v1h-0.5zM745.5 106.5h0.5v1.5h-0.5zM746 104.5h0.5v3.5h-0.5zM746.5 104.5h0.5v3h-0.5zM747 102.5h0.5v2h-0.5zM747.5 104h0.5v5h-0.5zM748 105h0.5v2h-0.5zM748.5 106.5h0.5v2h-0.5zM749 105.5h0.5v3h-0.5zM749.5 104.5h0.5v5.5h-0.5zM750 106h0.5v2.5h-0.5zM750.5 107h0.5v2.5h-0.5zM751 107h0.5v2h-0.5zM751.5 106.5h0.5v2h-0.5zM752 106h0.5v5h-0.5zM752.5 109h0.5v1.5h-0.5zM753 108.5h0.5v4h-0.5zM753.5 112h0.5v2.5h-0.5zM754 109.5h0.5v2.5h-0.5zM754.5 108.5h0.5v6.5h-0.5zM755 115h0.5v2h-0.5zM755.5 114h0.5v1.5h-0.5zM756 113h0.5v6.5h-0.5zM756.5 118h0.5v1.5h-0.5zM757 116.5h0.5v6.5h-0.5zM757.5 122.5h0.5v1.5h-0.5zM758 121.5h0.5v1.5h-0.5zM758.5 122.5h0.5v6.5h-0.5zM759 126.5h0.5v2.5h-0.5zM759.5 128h0.5v0.5h-0.5zM760 128h0.5v6h-0.5zM760.5 134h0.5v0.5h-0.5zM761 133.5h0.5v0.5h-0.5zM761.5 133h0.5v7h-0.5zM762 139h0.5v0.5h-0.5zM762.5 139.5h0.5v7.5h-0.5zM763 146h0.5v1.5h-0.5zM763.5 146h0.5v1h-0.5zM764 146.5h0.5v8h-0.5zM764.5 153.5h0.5v1h-0.5zM765 154h0.5v0.5h-0.5zM765.5 154h0.5v8h-0.5zM766 161.5h0.5v1h-0.5zM766.5 161.5h0.5v0.5h-0.5zM767 161.5h0.5v9h-0.5zM767.5 170h0.5v1h-0.5zM768 170.5h0.5v0.5h-0.5zM768.5 170h0.5v8h-0.5zM769 177.5h0.5v0.5h-0.5zM769.5 177h0.5v10h-0.5zM770 186h0.5v0.5h-0.5zM770.5 186h0.5v0.5h-0.5zM771 186h0.5v9h-0.5zM771.5 194h0.5v0.5h-0.5zM772 193.5h0.5v0.5h-0.5zM772.5 193.5h0.5v9.5h-0.5zM773 202h0.5v0.5h-0.5zM773.5 202.5h0.5v0.5h-0.5zM774 202h0.5v9.5h-0.5zM774.5 211h0.5v0.5h-0.5zM775 210.5h0.5v1h-0.5zM775.5 211h0.5v8.5h-0.5zM776 218.5h0.5v0.5h-0.5zM776.5 218.5h0.5v8h-0.5zM777 226.5h0.5v1h-0.5zM777.5 226h0.5v1.5h-0.5zM778 226.5h0.5v8h-0.5zM778.5 233.5h0.5v0.5h-0.5zM779 233h0.5v1.5h-0.5zM779.5 233h0.5v8.5h-0.5zM780 240h0.5v1h-0.5zM780.5 240.5h0.5v1h-0.5zM781 241h0.5v7.5h-0.5zM781.5 247.5h0.5v0.5h-0.5zM782 248h0.5v6.5h-0.5zM782.5 254.5h0.5v1h-0.5zM783 254h0.5v1h-0.5zM783.5 253.5h0.5v6.5h-0.5zM784 260h0.5v1h-0.5zM784.5 258.5h0.5v2h-0.5zM785 259.5h0.5v6h-0.5zM785.5 264.5h0.5v1h-0.5zM786 264.5h0.5v0.5h-0.5zM786.5 264h0.5v6h-0.5zM787 269h0.5v1h-0.5zM787.5 268.5h0.5v1.5h-0.5zM788 268.5h0.5v4.5h-0.5zM788.5 271.5h0.5v1.5h-0.5zM789 270.5h0.5v6h-0.5zM789.5 274h0.5v0.5h-0.5zM790 274h0.5v3.5h-0.5zM790.5 272h0.5v6h-0.5zM791 277.5h0.5v4.5h-0.5zM791.5 276h0.5v3h-0.5zM792 277.5h0.5v2h-0.5zM792.5 275h0.5v3h-0.5zM793 277h0.5v2.5h-0.5zM793.5 276.5h0.5v4h-0.5zM794 276.5h0.5v4h-0.5zM794.5 280h0.5v3.5h-0.5zM795 279.5h0.5v2h-0.5zM795.5 275h0.5v4.5h-0.5zM796 278.5h0.5v4.5h-0.5zM796.5 279h0.5v3h-0.5zM797 277h0.5v2h-0.5zM797.5 276.5h0.5v2.5h-0.5zM798 275.5h0.5v3h-0.5zM798.5 276h0.5v1h-0.5zM799 273.5h0.5v4h-0.5zM799.5 271h0.5v4h-0.5zM800 272.5h0.5v1.5h-0.5zM800.5 271h0.5v4.5h-0.5zM801 270.5h0.5v2h-0.5zM801.5 268h0.5v2.5h-0.5zM802 264.5h0.5v7h-0.5zM802.5 266h0.5v1.5h-0.5zM803 263h0.5v4.5h-0.5zM803.5 262h0.5v3.5h-0.5zM804 262.5h0.5v1.5h-0.5zM804.5 257h0.5v6.5h-0.5zM805 256h0.5v1.5h-0.5zM805.5 255.5h0.5v1h-0.5zM806 250.5h0.5v7h-0.5zM806.5 250h0.5v1h-0.5zM807 250.5h0.5v1h-0.5zM807.5 244.5h0.5v6.5h-0.5zM808 244.5h0.5v0.5h-0.5zM808.5 237.5h0.5v8.5h-0.5zM809 237h0.5v1.5h-0.5zM809.5 237.5h0.5v0.5h-0.5zM810 230.5h0.5v7.5h-0.5zM810.5 230h0.5v0.5h-0.5zM811 230.5h0.5v1h-0.5zM811.5 223.5h0.5v7.5h-0.5zM812 223h0.5v1h-0.5zM812.5 223h0.5v0.5h-0.5zM813 214.5h0.5v9h-0.5zM813.5 214.5h0.5v1.5h-0.5zM814 215h0.5v0.5h-0.5zM814.5 207.5h0.5v8.5h-0.5zM815 207h0.5v0.5h-0.5zM815.5 198.5h0.5v9.5h-0.5zM816 199h0.5v0.5h-0.5zM816.5 198.5h0.5v0.5h-0.5zM817 190h0.5v9.5h-0.5zM817.5 190h0.5v0.5h-0.5zM818 190h0.5v0.5h-0.5zM818.5 182h0.5v8.5h-0.5zM819 182h0.5v0.5h-0.5zM819.5 182h0.5v1h-0.5zM820 174h0.5v8.5h-0.5zM820.5 174.5h0.5v0.5h-0.5zM821 174h0.5v1h-0.5zM821.5 165.5h0.5v9.5h-0.5zM822 165.5h0.5v0.5h-0.5zM822.5 158.5h0.5v8h-0.5zM823 158.5h0.5v0.5h-0.5zM823.5 158.5h0.5v1h-0.5zM824 150.5h0.5v8.5h-0.5zM824.5 150.5h0.5v0.5h-0.5zM825 151h0.5v0.5h-0.5zM825.5 143.5h0.5v8h-0.5zM826 144h0.5v0.5h-0.5zM826.5 143.5h0.5v1.5h-0.5zM827 137h0.5v7.5h-0.5zM827.5 136.5h0.5v1h-0.5zM828 131h0.5v7h-0.5zM828.5 130.5h0.5v0.5h-0.5zM829 130.5h0.5v0.5h-0.5zM829.5 125h0.5v6.5h-0.5zM830 125h0.5v0.5h-0.5zM830.5 125.5h0.5v2h-0.5zM831 119.5h0.5v7h-0.5zM831.5 120.5h0.5v0.5h-0.5zM832 120.5h0.5v0.5h-0.5zM832.5 116.5h0.5v4h-0.5zM833 114.5h0.5v4h-0.5zM833.5 115.5h0.5v1.5h-0.5zM834 112.5h0.5v4h-0.5zM834.5 109.5h0.5v3h-0.5zM835 110h0.5v3h-0.5zM835.5 112h0.5v1.5h-0.5zM836 110.5h0.5v1.5h-0.5zM836.5 107h0.5v4h-0.5zM837 107h0.5v1h-0.5zM837.5 107.5h0.5v2h-0.5zM838 104.5h0.5v7h-0.5zM838.5 103h0.5v3h-0.5zM839 106h0.5v4.5h-0.5zM839.5 105h0.5v3.5h-0.5zM840 105h0.5v2h-0.5zM840.5 104h0.5v1.5h-0.5zM841 101.5h0.5v4h-0.5zM841.5 101.5h0.5v2h-0.5zM842 103h0.5v3.5h-0.5zM842.5 106h0.5v1.5h-0.5zM843 105.5h0.5v4h-0.5zM843.5 102h0.5v7.5h-0.5zM844 107.5h0.5v3.5h-0.5zM844.5 104.5h0.5v3h-0.5zM845 106.5h0.5v5.5h-0.5zM845.5 108h0.5v6.5h-0.5zM846 109.5h0.5v3h-0.5zM846.5 111h0.5v5.5h-0.5zM847 114.5h0.5v1.5h-0.5zM847.5 114h0.5v0.5h-0.5zM848 114h0.5v7h-0.5zM848.5 116.5h0.5v4h-0.5zM849 116h0.5v7h-0.5zM849.5 123h0.5v2h-0.5zM850 121h0.5v4h-0.5zM850.5 122h0.5v6.5h-0.5zM851 127.5h0.5v2.5h-0.5zM851.5 128.5h0.5v1h-0.5zM852 128h0.5v6.5h-0.5zM852.5 134h0.5v1h-0.5zM853 133.5h0.5v0.5h-0.5zM853.5 134h0.5v6h-0.5zM854 139h0.5v0.5h-0.5zM854.5 139.5h0.5v8.5h-0.5zM855 147h0.5v1h-0.5zM855.5 147.5h0.5v0.5h-0.5zM856 147h0.5v8h-0.5zM856.5 154h0.5v1h-0.5zM857 154.5h0.5v0.5h-0.5zM857.5 154.5h0.5v9h-0.5zM858 162.5h0.5v1h-0.5zM858.5 163h0.5v0.5h-0.5zM859 163h0.5v7.5h-0.5zM859.5 169.5h0.5v1h-0.5zM860 170h0.5v0.5h-0.5zM860.5 170h0.5v9h-0.5zM861 178.5h0.5v0.5h-0.5zM861.5 178h0.5v8.5h-0.5zM862 185.5h0.5v1.5h-0.5zM862.5 186h0.5v0.5h-0.5zM863 185.5h0.5v9.5h-0.5zM863.5 194h0.5v1h-0.5zM864 194.5h0.5v0.5h-0.5zM864.5 194.5h0.5v9h-0.5zM865 203h0.5v0.5h-0.5zM865.5 203.5h0.5v0.5h-0.5zM866 203h0.5v9h-0.5zM866.5 211.5h0.5v0.5h-0.5zM867 211.5h0.5v0.5h-0.5zM867.5 212h0.5v7.5h-0.5zM868 219h0.5v0.5h-0.5zM868.5 219h0.5v8.5h-0.5zM869 226.5h0.5v0.5h-0.5zM869.5 226.5h0.5v1h-0.5zM870 227h0.5v8.5h-0.5zM870.5 234.5h0.5v0.5h-0.5zM871 234.5h0.5v1h-0.5zM871.5 234.5h0.5v7.5h-0.5zM872 241.5h0.5v0.5h-0.5zM872.5 241.5h0.5v1.5h-0.5zM873 241h0.5v7.5h-0.5zM873.5 248.5h0.5v0.5h-0.5zM874 247h0.5v7.5h-0.5zM874.5 253.5h0.5v0.5h-0.5zM875 253h0.5v3h-0.5zM875.5 253.5h0.5v7h-0.5zM876 260h0.5v0.5h-0.5zM876.5 259.5h0.5v1.5h-0.5zM877 258h0.5v8h-0.5zM877.5 264.5h0.5v1.5h-0.5zM878 263.5h0.5v4h-0.5zM878.5 264.5h0.5v5h-0.5zM879 266.5h0.5v3h-0.5zM879.5 269.5h0.5v1h-0.5zM880 269h0.5v4.5h-0.5zM880.5 271.5h0.5v1h-0.5zM881 272.5h0.5v3.5h-0.5zM881.5 272.5h0.5v1.5h-0.5zM882 273h0.5v5.5h-0.5zM882.5 275h0.5v3h-0.5zM883 278h0.5v1.5h-0.5zM883.5 279h0.5v1.5h-0.5zM884 277.5h0.5v2h-0.5zM884.5 275h0.5v5.5h-0.5zM885 280h0.5v4h-0.5zM885.5 277h0.5v4.5h-0.5zM886 278.5h0.5v2h-0.5zM886.5 279.5h0.5v1.5h-0.5zM887 279h0.5v2h-0.5zM887.5 276h0.5v6.5h-0.5zM888 278.5h0.5v6h-0.5zM888.5 278.5h0.5v3.5h-0.5zM889 277.5h0.5v3.5h-0.5zM889.5 277h0.5v3h-0.5zM890 276h0.5v1.5h-0.5zM890.5 274.5h0.5v1.5h-0.5zM891 271.5h0.5v5.5h-0.5zM891.5 271h0.5v4h-0.5zM892 271h0.5v2h-0.5zM892.5 270.5h0.5v4.5h-0.5zM893 270h0.5v3h-0.5zM893.5 272h0.5v1.5h-0.5zM894 264h0.5v8h-0.5zM894.5 267h0.5v1h-0.5zM895 262h0.5v5.5h-0.5zM895.5 260.5h0.5v2.5h-0.5zM896 262.5h0.5v1.5h-0.5zM896.5 256.5h0.5v6h-0.5zM897 256h0.5v1h-0.5zM897.5 256h0.5v1h-0.5zM898 250.5h0.5v7.5h-0.5zM898.5 251h0.5v1.5h-0.5zM899 250.5h0.5v1h-0.5zM899.5 245h0.5v6.5h-0.5zM900 245h0.5v1h-0.5zM900.5 238h0.5v7.5h-0.5zM901 237.5h0.5v1h-0.5zM901.5 238h0.5v0.5h-0.5zM902 230h0.5v8.5h-0.5zM902.5 230.5h0.5v0.5h-0.5zM903 230h0.5v0.5h-0.5zM903.5 222h0.5v9h-0.5zM904 222.5h0.5v0.5h-0.5zM904.5 222.5h0.5v0.5h-0.5zM905 214.5h0.5v9h-0.5zM905.5 214.5h0.5v0.5h-0.5zM906 214h0.5v0.5h-0.5zM906.5 206.5h0.5v8.5h-0.5zM907 207h0.5v0.5h-0.5zM907.5 198.5h0.5v8.5h-0.5zM908 198h0.5v0.5h-0.5zM908.5 198h0.5v0.5h-0.5zM909 189.5h0.5v9h-0.5zM909.5 189.5h0.5v1h-0.5zM910 189.5h0.5v0.5h-0.5zM910.5 181h0.5v9h-0.5zM911 181.5h0.5v0.5h-0.5zM911.5 181.5h0.5v0.5h-0.5zM912 173.5h0.5v8h-0.5zM912.5 174h0.5v0.5h-0.5zM913 173h0.5v1.5h-0.5zM913.5 165.5h0.5v9h-0.5zM914 165.5h0.5v0.5h-0.5zM914.5 158h0.5v8.5h-0.5zM915 158h0.5v0.5h-0.5zM915.5 158h0.5v1h-0.5zM916 149.5h0.5v9h-0.5zM916.5 150h0.5v0.5h-0.5zM917 149.5h0.5v1h-0.5zM917.5 142.5h0.5v8.5h-0.5zM918 143h0.5v0.5h-0.5zM918.5 142.5h0.5v1h-0.5zM919 136h0.5v7.5h-0.5zM919.5 136h0.5v0.5h-0.5zM920 136.5h0.5v1h-0.5zM920.5 130h0.5v8h-0.5zM921 130h0.5v1.5h-0.5zM921.5 124.5h0.5v6h-0.5zM922 124.5h0.5v1h-0.5zM922.5 123h0.5v2.5h-0.5zM923 119.5h0.5v7h-0.5zM923.5 118h0.5v2h-0.5zM924 119h0.5v0.5h-0.5zM924.5 115h0.5v5.5h-0.5zM925 115.5h0.5v2h-0.5zM925.5 116h0.5v1h-0.5zM926 110h0.5v8.5h-0.5zM926.5 111h0.5v1h-0.5zM927 111.5h0.5v2h-0.5zM927.5 109.5h0.5v3.5h-0.5zM928 110.5h0.5v1.5h-0.5zM928.5 109h0.5v1.5h-0.5zM929 107.5h0.5v3h-0.5zM929.5 108.5h0.5v0.5h-0.5zM930 105.5h0.5v3h-0.5zM930.5 104.5h0.5v1.5h-0.5zM931 105.5h0.5v3h-0.5zM931.5 102.5h0.5v6.5h-0.5zM932 105h0.5v2.5h-0.5zM932.5 107.5h0.5v2.5h-0.5zM933 105h0.5v3.5h-0.5zM933.5 104h0.5v1.5h-0.5zM934 104.5h0.5v0.5h-0.5zM934.5 105h0.5v3h-0.5zM935 105h0.5v2h-0.5zM935.5 106.5h0.5v0.5h-0.5zM936 106.5h0.5v2.5h-0.5zM936.5 106.5h0.5v3h-0.5zM937 108h0.5v4h-0.5zM937.5 110.5h0.5v4h-0.5zM938 108h0.5v4.5h-0.5zM938.5 111.5h0.5v4h-0.5zM939 115.5h0.5v1.5h-0.5zM939.5 114h0.5v1.5h-0.5zM940 114h0.5v5h-0.5zM940.5 115.5h0.5v3h-0.5zM941 118.5h0.5v2.5h-0.5zM941.5 118h0.5v5.5h-0.5zM942 123h0.5v1h-0.5zM942.5 123.5h0.5v0.5h-0.5zM943 123h0.5v6h-0.5zM943.5 127h0.5v1h-0.5zM944 127.5h0.5v1.5h-0.5zM944.5 128.5h0.5v6.5h-0.5zM945 133h0.5v1h-0.5zM945.5 134h0.5v7h-0.5zM946 140h0.5v0.5h-0.5zM946.5 140h0.5v0.5h-0.5zM947 140h0.5v8.5h-0.5zM947.5 148.5h0.5v0.5h-0.5zM948 148h0.5v0.5h-0.5zM948.5 147.5h0.5v8.5h-0.5zM949 155.5h0.5v0.5h-0.5zM949.5 155h0.5v0.5h-0.5zM950 155h0.5v8.5h-0.5zM950.5 163h0.5v0.5h-0.5zM951 163h0.5v0.5h-0.5zM951.5 163h0.5v8.5h-0.5zM952 170.5h0.5v0.5h-0.5zM952.5 170.5h0.5v9h-0.5zM953 178.5h0.5v0.5h-0.5zM953.5 178.5h0.5v0.5h-0.5zM954 178.5h0.5v9.5h-0.5zM954.5 187h0.5v0.5h-0.5zM955 187.5h0.5v0.5h-0.5zM955.5 187h0.5v9h-0.5zM956 195.5h0.5v1h-0.5zM956.5 195.5h0.5v0.5h-0.5zM957 195.5h0.5v8.5h-0.5zM957.5 203.5h0.5v1h-0.5zM958 203.5h0.5v0.5h-0.5zM958.5 203.5h0.5v9.5h-0.5zM959 211.5h0.5v0.5h-0.5zM959.5 212h0.5v0.5h-0.5zM960 212h0.5v9h-0.5zM960.5 220h0.5v0.5h-0.5zM961 220h0.5v8.5h-0.5zM961.5 228.5h0.5v0.5h-0.5zM962 228h0.5v1h-0.5zM962.5 228h0.5v7.5h-0.5zM963 235h0.5v0.5h-0.5zM963.5 234.5h0.5v1h-0.5zM964 235h0.5v7.5h-0.5zM964.5 241.5h0.5v0.5h-0.5zM965 240.5h0.5v2h-0.5zM965.5 241.5h0.5v8h-0.5zM966 248h0.5v2.5h-0.5zM966.5 247.5h0.5v2.5h-0.5zM967 249h0.5v6h-0.5zM967.5 254.5h0.5v1.5h-0.5zM968 254.5h0.5v6h-0.5zM968.5 260h0.5v1h-0.5zM969 259h0.5v1.5h-0.5zM969.5 260h0.5v5.5h-0.5zM970 265h0.5v1.5h-0.5zM970.5 265h0.5v1h-0.5zM971 265h0.5v5h-0.5zM971.5 268h0.5v1.5h-0.5zM972 268.5h0.5v1h-0.5zM972.5 269.5h0.5v4h-0.5zM973 272.5h0.5v1.5h-0.5zM973.5 272h0.5v0.5h-0.5zM974 272.5h0.5v6.5h-0.5zM974.5 276.5h0.5v0.5h-0.5zM975 276.5h0.5v2h-0.5zM975.5 277h0.5v3h-0.5zM976 274.5h0.5v2.5h-0.5zM976.5 275.5h0.5v3.5h-0.5zM977 277.5h0.5v4.5h-0.5zM977.5 275.5h0.5v3.5h-0.5zM978 277.5h0.5v3h-0.5zM978.5 278h0.5v2h-0.5zM979 275.5h0.5v8h-0.5zM979.5 278.5h0.5v5h-0.5zM980 277h0.5v1.5h-0.5zM980.5 277h0.5v1h-0.5zM981 278h0.5v2.5h-0.5zM981.5 276h0.5v3h-0.5zM982 277.5h0.5v5.5h-0.5zM982.5 273.5h0.5v7.5h-0.5zM983 275h0.5v2h-0.5zM983.5 274h0.5v4h-0.5zM984 273h0.5v1h-0.5zM984.5 272h0.5v3h-0.5zM985 271h0.5v5h-0.5zM985.5 269.5h0.5v1.5h-0.5zM986 269h0.5v2.5h-0.5zM986.5 266h0.5v5h-0.5zM987 266.5h0.5v1h-0.5zM987.5 265.5h0.5v1h-0.5zM988 261h0.5v6h-0.5zM988.5 260.5h0.5v2h-0.5zM989 262h0.5v0.5h-0.5zM989.5 255h0.5v7.5h-0.5zM990 255.5h0.5v0.5h-0.5zM990.5 250h0.5v7h-0.5zM991 249h0.5v2h-0.5zM991.5 250.5h0.5v0.5h-0.5zM992 243.5h0.5v8h-0.5zM992.5 243h0.5v1h-0.5zM993 243.5h0.5v0.5h-0.5zM993.5 236.5h0.5v8h-0.5zM994 237h0.5v0.5h-0.5zM994.5 236.5h0.5v0.5h-0.5zM995 229h0.5v8.5h-0.5zM995.5 229h0.5v0.5h-0.5zM996 229.5h0.5v0.5h-0.5zM996.5 222h0.5v7.5h-0.5zM997 222.5h0.5v0.5h-0.5zM997.5 222h0.5v0.5h-0.5zM998 214h0.5v8.5h-0.5zM998.5 214h0.5v1h-0.5zM999 205.5h0.5v10h-0.5zM999.5 206h0.5v0.5h-0.5zM1000 205.5h0.5v0.5h-0.5zM1000.5 197h0.5v9.5h-0.5zM1001 197.5h0.5v0.5h-0.5zM1001.5 197h0.5v1h-0.5zM1002 189.5h0.5v8.5h-0.5zM1002.5 189h0.5v1h-0.5zM1003 189.5h0.5v0.5h-0.5z"/></g></g><g shape-rendering="crispEdges"><rect x="81" y="16" width="11" height="1" fill="#b4b4b4"/><rect x="993" y="16" width="10" height="1" fill="#b4b4b4"/><rect x="81" y="59" width="11" height="1" fill="#707070"/><rect x="993" y="59" width="10" height="1" fill="#707070"/><rect x="81" y="104" width="11" height="1" fill="#707070"/><rect x="993" y="104" width="10" height="1" fill="#707070"/><rect x="81" y="148" width="11" height="1" fill="#808080"/><rect x="993" y="148" width="10" height="1" fill="#808080"/><rect x="81" y="193" width="11" height="1" fill="#a8a8a8"/><rect x="993" y="193" width="10" height="1" fill="#a8a8a8"/><rect x="81" y="236" width="11" height="1" fill="#6c6c6c"/><rect x="993" y="236" width="10" height="1" fill="#6c6c6c"/><rect x="81" y="280" width="11" height="1" fill="#d0d0d0"/><rect x="993" y="280" width="10" height="1" fill="#d0d0d0"/><rect x="81" y="281" width="11" height="1" fill="#d0d0d0"/><rect x="993" y="281" width="10" height="1" fill="#d0d0d0"/><rect x="81" y="325" width="11" height="1" fill="#787878"/><rect x="993" y="325" width="10" height="1" fill="#787878"/><rect x="173" y="359" width="1" height="11" fill="#707070"/><rect x="173" y="16" width="1" height="10" fill="#707070"/><rect x="265" y="359" width="1" height="11" fill="#a4a4a4"/><rect x="265" y="16" width="1" height="10" fill="#a4a4a4"/><rect x="357" y="359" width="1" height="11" fill="#a8a8a8"/><rect x="357" y="16" width="1" height="10" fill="#a8a8a8"/><rect x="449" y="359" width="1" height="11" fill="#6c6c6c"/><rect x="449" y="16" width="1" height="10" fill="#6c6c6c"/><rect x="542" y="359" width="1" height="11" fill="#a8a8a8"/><rect x="542" y="16" width="1" height="10" fill="#a8a8a8"/><rect x="543" y="359" width="1" height="11" fill="#a8a8a8"/><rect x="543" y="16" width="1" height="10" fill="#a8a8a8"/><rect x="634" y="359" width="1" height="11" fill="#a8a8a8"/><rect x="634" y="16" width="1" height="10" fill="#a8a8a8"/><rect x="635" y="359" width="1" height="11" fill="#a8a8a8"/><rect x="635" y="16" width="1" height="10" fill="#a8a8a8"/><rect x="726" y="359" width="1" height="11" fill="#a0a0a0"/><rect x="726" y="16" width="1" height="10" fill="#a0a0a0"/><rect x="818" y="359" width="1" height="11" fill="#a0a0a0"/><rect x="818" y="16" width="1" height="10" fill="#a0a0a0"/><rect x="910" y="359" width="1" height="11" fill="#a0a0a0"/><rect x="910" y="16" width="1" height="10" fill="#a0a0a0"/><rect x="80" y="14" width="925" height="1" fill="#bcbcbc"/><rect x="80" y="14" width="1" height="357" fill="#b8b8b8"/><rect x="1003" y="14" width="1" height="357" fill="#999999"/><rect x="1004" y="14" width="1" height="357" fill="#d4d4d4"/><rect x="81" y="369" width="922" height="1" fill="#e0e0e0"/><rect x="80" y="370" width="925" height="1" fill="#7a7a7a"/></g><g shape-rendering="crispEdges"><rect x="809" y="26" width="187" height="67" fill="#fff"/><rect x="809" y="26" width="186" height="1" fill="#e4e4e4"/><rect x="809" y="27" width="186" height="1" fill="#c0c0c0"/><rect x="809" y="27" width="1" height="65" fill="#b0b0b0"/><rect x="994" y="27" width="1" height="65" fill="#8c8c8c"/><rect x="995" y="27" width="1" height="65" fill="#dcdcdc"/><rect x="809" y="91" width="186" height="1" fill="#9a9a9a"/><rect x="809" y="92" width="186" height="1" fill="#d8d8d8"/><rect x="822" y="43" width="61" height="2" fill="#0000ff" fill-opacity="0.2"/><rect x="822" y="73" width="61" height="1" fill="#ff0000" fill-opacity="0.62"/></g><g font-family="Liberation Sans, sans-serif" font-size="20" fill="#000" opacity="0.999"><text x="889.5" y="51.3">with arc</text><text x="889.5" y="79.8">without arc</text><text transform="translate(80.5,393) scale(0.975,1.05)" text-anchor="middle">0.3</text><text transform="translate(174.65,393) scale(0.975,1.05)" text-anchor="middle">0.32</text><text transform="translate(266.75,393) scale(0.975,1.05)" text-anchor="middle">0.34</text><text transform="translate(358.55,393) scale(0.975,1.05)" text-anchor="middle">0.36</text><text transform="translate(450.7,393) scale(0.975,1.05)" text-anchor="middle">0.38</text><text transform="translate(542.8,393) scale(0.975,1.05)" text-anchor="middle">0.4</text><text transform="translate(635.6,393) scale(0.975,1.05)" text-anchor="middle">0.42</text><text transform="translate(727.9,393) scale(0.975,1.05)" text-anchor="middle">0.44</text><text transform="translate(819.8,393) scale(0.975,1.05)" text-anchor="middle">0.46</text><text transform="translate(911.5,393) scale(0.975,1.05)" text-anchor="middle">0.48</text><text transform="translate(1004.2,393) scale(0.975,1.05)" text-anchor="middle">0.5</text><text transform="translate(76.3,21.8) scale(0.975,1.05)" text-anchor="end">400</text><text transform="translate(76.3,65.3) scale(0.975,1.05)" text-anchor="end">300</text><text transform="translate(76.3,109.5) scale(0.975,1.05)" text-anchor="end">200</text><text transform="translate(76.3,154.0) scale(0.975,1.05)" text-anchor="end">100</text><text transform="translate(76.3,199.0) scale(0.975,1.05)" text-anchor="end">0</text><text transform="translate(76.3,241.8) scale(0.975,1.05)" text-anchor="end">-100</text><text transform="translate(76.3,286.3) scale(0.975,1.05)" text-anchor="end">-200</text><text transform="translate(76.3,331.0) scale(0.975,1.05)" text-anchor="end">-300</text><text transform="translate(76.3,375.7) scale(0.975,1.05)" text-anchor="end">-400</text><text x="539.3" y="418.9" text-anchor="middle" letter-spacing="0.25">time [s]</text><text transform="translate(21,195.1) rotate(-90)" text-anchor="middle" letter-spacing="0.06">primary current [A]</text></g></svg>
</body></html>
